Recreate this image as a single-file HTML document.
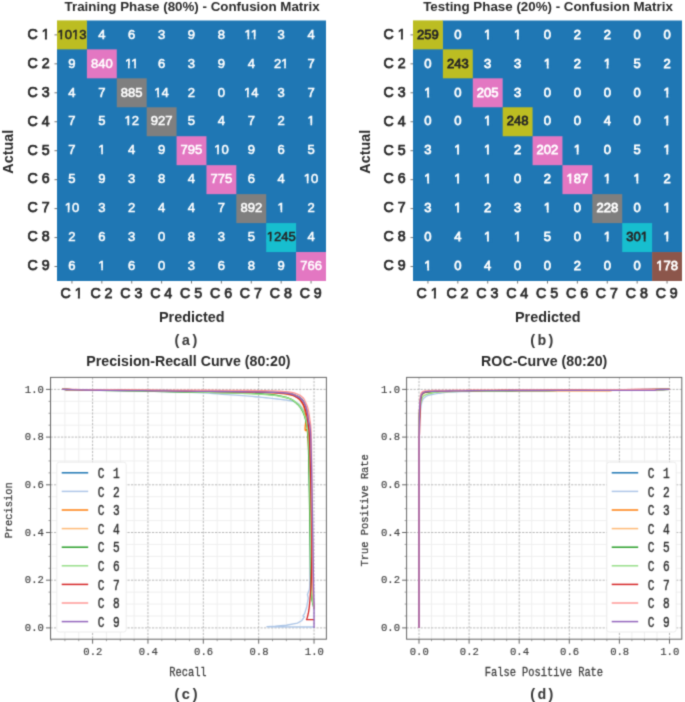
<!DOCTYPE html>
<html><head><meta charset="utf-8"><style>
html,body{margin:0;padding:0;background:#fff;}
svg{display:block;will-change:transform;}
text{font-family:"Liberation Sans", sans-serif;fill:#2b2b2b;}
.num1{font-size:13.6px;stroke-width:0.55px;}
.num2{font-size:13.6px;stroke-width:0.75px;}
.cl{font-size:14.2px;stroke:#2b2b2b;stroke-width:0.75px;}
.ttl{font-size:13.7px;font-weight:bold;}
.ttl2{font-size:14.2px;font-weight:bold;}
.lbl{font-size:14.4px;font-weight:bold;}
.sub{font-family:"Liberation Mono", monospace;font-size:14.7px;font-weight:bold;fill:#3a3a3a;}
.tick{font-family:"Liberation Mono", monospace;font-size:10.6px;fill:#424242;stroke:#424242;stroke-width:0.15px;}
.axl{font-family:"Liberation Mono", monospace;font-size:10.4px;fill:#404040;stroke:#404040;stroke-width:0.25px;}
.leg{font-family:"Liberation Mono", monospace;font-size:13px;letter-spacing:1.1px;fill:#333;stroke:#333;stroke-width:0.4px;}
</style></head>
<body><svg width="685" height="702" viewBox="0 0 685 702">
<defs><filter id="soft" x="0" y="0" width="685" height="702" filterUnits="userSpaceOnUse" color-interpolation-filters="sRGB"><feConvolveMatrix order="3" kernelMatrix="0.0256 0.1088 0.0256 0.1088 0.4624 0.1088 0.0256 0.1088 0.0256" edgeMode="duplicate" preserveAlpha="true"/></filter></defs>
<g filter="url(#soft)"><rect width="685" height="702" fill="#fff"/>
<path d="M86.39,20.40 L326.00,20.40 L326.00,252.54 L296.61,252.54 L296.61,281.00 L57.00,281.00 L57.00,48.86 L86.39,48.86 Z" fill="#1f77b4"/>
<rect x="57.00" y="20.40" width="29.89" height="28.96" fill="#bcbd22"/>
<rect x="86.89" y="49.36" width="29.89" height="28.96" fill="#e377c2"/>
<rect x="116.78" y="78.31" width="29.89" height="28.96" fill="#7f7f7f"/>
<rect x="146.67" y="107.27" width="29.89" height="28.96" fill="#7f7f7f"/>
<rect x="176.56" y="136.22" width="29.89" height="28.96" fill="#e377c2"/>
<rect x="206.44" y="165.18" width="29.89" height="28.96" fill="#e377c2"/>
<rect x="236.33" y="194.13" width="29.89" height="28.96" fill="#7f7f7f"/>
<rect x="266.22" y="223.09" width="29.89" height="28.96" fill="#17becf"/>
<rect x="296.11" y="252.04" width="29.89" height="28.96" fill="#e377c2"/>
<text transform="translate(71.94,38.63) scale(0.96,1.0)" class="num1" text-anchor="middle" style="fill:#262626;stroke:#262626">1013</text>
<rect x="57.15" y="36.34" width="3.29" height="3.57" fill="#bcbd22"/>
<rect x="62.13" y="36.34" width="2.74" height="3.57" fill="#bcbd22"/>
<rect x="71.73" y="36.34" width="3.21" height="3.57" fill="#bcbd22"/>
<rect x="76.63" y="36.34" width="2.74" height="3.57" fill="#bcbd22"/>
<text transform="translate(101.83,38.63) scale(0.96,1.0)" class="num1" text-anchor="middle" style="fill:#ffffff;stroke:#ffffff">4</text>
<text transform="translate(131.72,38.63) scale(0.96,1.0)" class="num1" text-anchor="middle" style="fill:#ffffff;stroke:#ffffff">6</text>
<text transform="translate(161.61,38.63) scale(0.96,1.0)" class="num1" text-anchor="middle" style="fill:#ffffff;stroke:#ffffff">3</text>
<text transform="translate(191.50,38.63) scale(0.96,1.0)" class="num1" text-anchor="middle" style="fill:#ffffff;stroke:#ffffff">9</text>
<text transform="translate(221.39,38.63) scale(0.96,1.0)" class="num1" text-anchor="middle" style="fill:#ffffff;stroke:#ffffff">8</text>
<text transform="translate(251.28,38.63) scale(0.96,1.0)" class="num1" text-anchor="middle" style="fill:#ffffff;stroke:#ffffff">11</text>
<rect x="244.23" y="36.34" width="3.29" height="3.57" fill="#1f77b4"/>
<rect x="249.20" y="36.34" width="2.26" height="3.57" fill="#1f77b4"/>
<rect x="251.44" y="36.34" width="2.37" height="3.57" fill="#1f77b4"/>
<rect x="255.48" y="36.34" width="3.19" height="3.57" fill="#1f77b4"/>
<text transform="translate(281.17,38.63) scale(0.96,1.0)" class="num1" text-anchor="middle" style="fill:#ffffff;stroke:#ffffff">3</text>
<text transform="translate(311.06,38.63) scale(0.96,1.0)" class="num1" text-anchor="middle" style="fill:#ffffff;stroke:#ffffff">4</text>
<text transform="translate(71.94,67.58) scale(0.96,1.0)" class="num1" text-anchor="middle" style="fill:#ffffff;stroke:#ffffff">9</text>
<text transform="translate(101.83,67.58) scale(0.96,1.0)" class="num1" text-anchor="middle" style="fill:#ffffff;stroke:#ffffff">840</text>
<text transform="translate(131.72,67.58) scale(0.96,1.0)" class="num1" text-anchor="middle" style="fill:#ffffff;stroke:#ffffff">11</text>
<rect x="124.67" y="65.29" width="3.29" height="3.57" fill="#1f77b4"/>
<rect x="129.64" y="65.29" width="2.26" height="3.57" fill="#1f77b4"/>
<rect x="131.88" y="65.29" width="2.37" height="3.57" fill="#1f77b4"/>
<rect x="135.93" y="65.29" width="3.19" height="3.57" fill="#1f77b4"/>
<text transform="translate(161.61,67.58) scale(0.96,1.0)" class="num1" text-anchor="middle" style="fill:#ffffff;stroke:#ffffff">6</text>
<text transform="translate(191.50,67.58) scale(0.96,1.0)" class="num1" text-anchor="middle" style="fill:#ffffff;stroke:#ffffff">3</text>
<text transform="translate(221.39,67.58) scale(0.96,1.0)" class="num1" text-anchor="middle" style="fill:#ffffff;stroke:#ffffff">9</text>
<text transform="translate(251.28,67.58) scale(0.96,1.0)" class="num1" text-anchor="middle" style="fill:#ffffff;stroke:#ffffff">4</text>
<text transform="translate(281.17,67.58) scale(0.96,1.0)" class="num1" text-anchor="middle" style="fill:#ffffff;stroke:#ffffff">21</text>
<rect x="280.88" y="65.29" width="3.29" height="3.57" fill="#1f77b4"/>
<rect x="285.85" y="65.29" width="3.19" height="3.57" fill="#1f77b4"/>
<text transform="translate(311.06,67.58) scale(0.96,1.0)" class="num1" text-anchor="middle" style="fill:#ffffff;stroke:#ffffff">7</text>
<text transform="translate(71.94,96.54) scale(0.96,1.0)" class="num1" text-anchor="middle" style="fill:#ffffff;stroke:#ffffff">4</text>
<text transform="translate(101.83,96.54) scale(0.96,1.0)" class="num1" text-anchor="middle" style="fill:#ffffff;stroke:#ffffff">7</text>
<text transform="translate(131.72,96.54) scale(0.96,1.0)" class="num1" text-anchor="middle" style="fill:#ffffff;stroke:#ffffff">885</text>
<text transform="translate(161.61,96.54) scale(0.96,1.0)" class="num1" text-anchor="middle" style="fill:#ffffff;stroke:#ffffff">14</text>
<rect x="154.08" y="94.25" width="3.29" height="3.57" fill="#1f77b4"/>
<rect x="159.05" y="94.25" width="2.53" height="3.57" fill="#1f77b4"/>
<text transform="translate(191.50,96.54) scale(0.96,1.0)" class="num1" text-anchor="middle" style="fill:#ffffff;stroke:#ffffff">2</text>
<text transform="translate(221.39,96.54) scale(0.96,1.0)" class="num1" text-anchor="middle" style="fill:#ffffff;stroke:#ffffff">0</text>
<text transform="translate(251.28,96.54) scale(0.96,1.0)" class="num1" text-anchor="middle" style="fill:#ffffff;stroke:#ffffff">14</text>
<rect x="243.75" y="94.25" width="3.29" height="3.57" fill="#1f77b4"/>
<rect x="248.72" y="94.25" width="2.53" height="3.57" fill="#1f77b4"/>
<text transform="translate(281.17,96.54) scale(0.96,1.0)" class="num1" text-anchor="middle" style="fill:#ffffff;stroke:#ffffff">3</text>
<text transform="translate(311.06,96.54) scale(0.96,1.0)" class="num1" text-anchor="middle" style="fill:#ffffff;stroke:#ffffff">7</text>
<text transform="translate(71.94,125.49) scale(0.96,1.0)" class="num1" text-anchor="middle" style="fill:#ffffff;stroke:#ffffff">7</text>
<text transform="translate(101.83,125.49) scale(0.96,1.0)" class="num1" text-anchor="middle" style="fill:#ffffff;stroke:#ffffff">5</text>
<text transform="translate(131.72,125.49) scale(0.96,1.0)" class="num1" text-anchor="middle" style="fill:#ffffff;stroke:#ffffff">12</text>
<rect x="124.19" y="123.20" width="3.29" height="3.57" fill="#1f77b4"/>
<rect x="129.16" y="123.20" width="2.89" height="3.57" fill="#1f77b4"/>
<text transform="translate(161.61,125.49) scale(0.96,1.0)" class="num1" text-anchor="middle" style="fill:#ffffff;stroke:#ffffff">927</text>
<text transform="translate(191.50,125.49) scale(0.96,1.0)" class="num1" text-anchor="middle" style="fill:#ffffff;stroke:#ffffff">5</text>
<text transform="translate(221.39,125.49) scale(0.96,1.0)" class="num1" text-anchor="middle" style="fill:#ffffff;stroke:#ffffff">4</text>
<text transform="translate(251.28,125.49) scale(0.96,1.0)" class="num1" text-anchor="middle" style="fill:#ffffff;stroke:#ffffff">7</text>
<text transform="translate(281.17,125.49) scale(0.96,1.0)" class="num1" text-anchor="middle" style="fill:#ffffff;stroke:#ffffff">2</text>
<text transform="translate(311.06,125.49) scale(0.96,1.0)" class="num1" text-anchor="middle" style="fill:#ffffff;stroke:#ffffff">1</text>
<rect x="307.16" y="123.20" width="3.29" height="3.57" fill="#1f77b4"/>
<rect x="312.13" y="123.20" width="3.19" height="3.57" fill="#1f77b4"/>
<text transform="translate(71.94,154.45) scale(0.96,1.0)" class="num1" text-anchor="middle" style="fill:#ffffff;stroke:#ffffff">7</text>
<text transform="translate(101.83,154.45) scale(0.96,1.0)" class="num1" text-anchor="middle" style="fill:#ffffff;stroke:#ffffff">1</text>
<rect x="97.93" y="152.16" width="3.29" height="3.57" fill="#1f77b4"/>
<rect x="102.90" y="152.16" width="3.19" height="3.57" fill="#1f77b4"/>
<text transform="translate(131.72,154.45) scale(0.96,1.0)" class="num1" text-anchor="middle" style="fill:#ffffff;stroke:#ffffff">4</text>
<text transform="translate(161.61,154.45) scale(0.96,1.0)" class="num1" text-anchor="middle" style="fill:#ffffff;stroke:#ffffff">9</text>
<text transform="translate(191.50,154.45) scale(0.96,1.0)" class="num1" text-anchor="middle" style="fill:#ffffff;stroke:#ffffff">795</text>
<text transform="translate(221.39,154.45) scale(0.96,1.0)" class="num1" text-anchor="middle" style="fill:#ffffff;stroke:#ffffff">10</text>
<rect x="213.86" y="152.16" width="3.29" height="3.57" fill="#1f77b4"/>
<rect x="218.83" y="152.16" width="2.74" height="3.57" fill="#1f77b4"/>
<text transform="translate(251.28,154.45) scale(0.96,1.0)" class="num1" text-anchor="middle" style="fill:#ffffff;stroke:#ffffff">9</text>
<text transform="translate(281.17,154.45) scale(0.96,1.0)" class="num1" text-anchor="middle" style="fill:#ffffff;stroke:#ffffff">6</text>
<text transform="translate(311.06,154.45) scale(0.96,1.0)" class="num1" text-anchor="middle" style="fill:#ffffff;stroke:#ffffff">5</text>
<text transform="translate(71.94,183.41) scale(0.96,1.0)" class="num1" text-anchor="middle" style="fill:#ffffff;stroke:#ffffff">5</text>
<text transform="translate(101.83,183.41) scale(0.96,1.0)" class="num1" text-anchor="middle" style="fill:#ffffff;stroke:#ffffff">9</text>
<text transform="translate(131.72,183.41) scale(0.96,1.0)" class="num1" text-anchor="middle" style="fill:#ffffff;stroke:#ffffff">3</text>
<text transform="translate(161.61,183.41) scale(0.96,1.0)" class="num1" text-anchor="middle" style="fill:#ffffff;stroke:#ffffff">8</text>
<text transform="translate(191.50,183.41) scale(0.96,1.0)" class="num1" text-anchor="middle" style="fill:#ffffff;stroke:#ffffff">4</text>
<text transform="translate(221.39,183.41) scale(0.96,1.0)" class="num1" text-anchor="middle" style="fill:#ffffff;stroke:#ffffff">775</text>
<text transform="translate(251.28,183.41) scale(0.96,1.0)" class="num1" text-anchor="middle" style="fill:#ffffff;stroke:#ffffff">6</text>
<text transform="translate(281.17,183.41) scale(0.96,1.0)" class="num1" text-anchor="middle" style="fill:#ffffff;stroke:#ffffff">4</text>
<text transform="translate(311.06,183.41) scale(0.96,1.0)" class="num1" text-anchor="middle" style="fill:#ffffff;stroke:#ffffff">10</text>
<rect x="303.53" y="181.11" width="3.29" height="3.57" fill="#1f77b4"/>
<rect x="308.50" y="181.11" width="2.74" height="3.57" fill="#1f77b4"/>
<text transform="translate(71.94,212.36) scale(0.96,1.0)" class="num1" text-anchor="middle" style="fill:#ffffff;stroke:#ffffff">10</text>
<rect x="64.41" y="210.07" width="3.29" height="3.57" fill="#1f77b4"/>
<rect x="69.39" y="210.07" width="2.74" height="3.57" fill="#1f77b4"/>
<text transform="translate(101.83,212.36) scale(0.96,1.0)" class="num1" text-anchor="middle" style="fill:#ffffff;stroke:#ffffff">3</text>
<text transform="translate(131.72,212.36) scale(0.96,1.0)" class="num1" text-anchor="middle" style="fill:#ffffff;stroke:#ffffff">2</text>
<text transform="translate(161.61,212.36) scale(0.96,1.0)" class="num1" text-anchor="middle" style="fill:#ffffff;stroke:#ffffff">4</text>
<text transform="translate(191.50,212.36) scale(0.96,1.0)" class="num1" text-anchor="middle" style="fill:#ffffff;stroke:#ffffff">4</text>
<text transform="translate(221.39,212.36) scale(0.96,1.0)" class="num1" text-anchor="middle" style="fill:#ffffff;stroke:#ffffff">7</text>
<text transform="translate(251.28,212.36) scale(0.96,1.0)" class="num1" text-anchor="middle" style="fill:#ffffff;stroke:#ffffff">892</text>
<text transform="translate(281.17,212.36) scale(0.96,1.0)" class="num1" text-anchor="middle" style="fill:#ffffff;stroke:#ffffff">1</text>
<rect x="277.27" y="210.07" width="3.29" height="3.57" fill="#1f77b4"/>
<rect x="282.24" y="210.07" width="3.19" height="3.57" fill="#1f77b4"/>
<text transform="translate(311.06,212.36) scale(0.96,1.0)" class="num1" text-anchor="middle" style="fill:#ffffff;stroke:#ffffff">2</text>
<text transform="translate(71.94,241.32) scale(0.96,1.0)" class="num1" text-anchor="middle" style="fill:#ffffff;stroke:#ffffff">2</text>
<text transform="translate(101.83,241.32) scale(0.96,1.0)" class="num1" text-anchor="middle" style="fill:#ffffff;stroke:#ffffff">6</text>
<text transform="translate(131.72,241.32) scale(0.96,1.0)" class="num1" text-anchor="middle" style="fill:#ffffff;stroke:#ffffff">3</text>
<text transform="translate(161.61,241.32) scale(0.96,1.0)" class="num1" text-anchor="middle" style="fill:#ffffff;stroke:#ffffff">0</text>
<text transform="translate(191.50,241.32) scale(0.96,1.0)" class="num1" text-anchor="middle" style="fill:#ffffff;stroke:#ffffff">8</text>
<text transform="translate(221.39,241.32) scale(0.96,1.0)" class="num1" text-anchor="middle" style="fill:#ffffff;stroke:#ffffff">3</text>
<text transform="translate(251.28,241.32) scale(0.96,1.0)" class="num1" text-anchor="middle" style="fill:#ffffff;stroke:#ffffff">5</text>
<text transform="translate(281.17,241.32) scale(0.96,1.0)" class="num1" text-anchor="middle" style="fill:#262626;stroke:#262626">1245</text>
<rect x="266.38" y="239.03" width="3.29" height="3.57" fill="#17becf"/>
<rect x="271.35" y="239.03" width="2.89" height="3.57" fill="#17becf"/>
<text transform="translate(311.06,241.32) scale(0.96,1.0)" class="num1" text-anchor="middle" style="fill:#ffffff;stroke:#ffffff">4</text>
<text transform="translate(71.94,270.27) scale(0.96,1.0)" class="num1" text-anchor="middle" style="fill:#ffffff;stroke:#ffffff">6</text>
<text transform="translate(101.83,270.27) scale(0.96,1.0)" class="num1" text-anchor="middle" style="fill:#ffffff;stroke:#ffffff">1</text>
<rect x="97.93" y="267.98" width="3.29" height="3.57" fill="#1f77b4"/>
<rect x="102.90" y="267.98" width="3.19" height="3.57" fill="#1f77b4"/>
<text transform="translate(131.72,270.27) scale(0.96,1.0)" class="num1" text-anchor="middle" style="fill:#ffffff;stroke:#ffffff">6</text>
<text transform="translate(161.61,270.27) scale(0.96,1.0)" class="num1" text-anchor="middle" style="fill:#ffffff;stroke:#ffffff">0</text>
<text transform="translate(191.50,270.27) scale(0.96,1.0)" class="num1" text-anchor="middle" style="fill:#ffffff;stroke:#ffffff">3</text>
<text transform="translate(221.39,270.27) scale(0.96,1.0)" class="num1" text-anchor="middle" style="fill:#ffffff;stroke:#ffffff">6</text>
<text transform="translate(251.28,270.27) scale(0.96,1.0)" class="num1" text-anchor="middle" style="fill:#ffffff;stroke:#ffffff">8</text>
<text transform="translate(281.17,270.27) scale(0.96,1.0)" class="num1" text-anchor="middle" style="fill:#ffffff;stroke:#ffffff">9</text>
<text transform="translate(311.06,270.27) scale(0.96,1.0)" class="num1" text-anchor="middle" style="fill:#ffffff;stroke:#ffffff">766</text>
<line x1="54.5" y1="34.88" x2="57" y2="34.88" stroke="#666" stroke-width="0.9"/>
<text transform="translate(49.60,38.68)" class="cl" text-anchor="end">C 1</text>
<rect x="41.42" y="36.24" width="3.49" height="3.81" fill="#fff"/>
<rect x="46.91" y="36.24" width="3.38" height="3.81" fill="#fff"/>
<line x1="71.94" y1="281.00" x2="71.94" y2="283.50" stroke="#666" stroke-width="0.9"/>
<text transform="translate(71.54,297.60)" class="cl" text-anchor="middle">C 1</text>
<rect x="74.40" y="295.16" width="3.49" height="3.81" fill="#fff"/>
<rect x="79.89" y="295.16" width="3.38" height="3.81" fill="#fff"/>
<line x1="54.5" y1="63.83" x2="57" y2="63.83" stroke="#666" stroke-width="0.9"/>
<text transform="translate(49.60,67.63)" class="cl" text-anchor="end">C 2</text>
<line x1="101.83" y1="281.00" x2="101.83" y2="283.50" stroke="#666" stroke-width="0.9"/>
<text transform="translate(101.43,297.60)" class="cl" text-anchor="middle">C 2</text>
<line x1="54.5" y1="92.79" x2="57" y2="92.79" stroke="#666" stroke-width="0.9"/>
<text transform="translate(49.60,96.59)" class="cl" text-anchor="end">C 3</text>
<line x1="131.72" y1="281.00" x2="131.72" y2="283.50" stroke="#666" stroke-width="0.9"/>
<text transform="translate(131.32,297.60)" class="cl" text-anchor="middle">C 3</text>
<line x1="54.5" y1="121.74" x2="57" y2="121.74" stroke="#666" stroke-width="0.9"/>
<text transform="translate(49.60,125.54)" class="cl" text-anchor="end">C 4</text>
<line x1="161.61" y1="281.00" x2="161.61" y2="283.50" stroke="#666" stroke-width="0.9"/>
<text transform="translate(161.21,297.60)" class="cl" text-anchor="middle">C 4</text>
<line x1="54.5" y1="150.70" x2="57" y2="150.70" stroke="#666" stroke-width="0.9"/>
<text transform="translate(49.60,154.50)" class="cl" text-anchor="end">C 5</text>
<line x1="191.50" y1="281.00" x2="191.50" y2="283.50" stroke="#666" stroke-width="0.9"/>
<text transform="translate(191.10,297.60)" class="cl" text-anchor="middle">C 5</text>
<line x1="54.5" y1="179.66" x2="57" y2="179.66" stroke="#666" stroke-width="0.9"/>
<text transform="translate(49.60,183.46)" class="cl" text-anchor="end">C 6</text>
<line x1="221.39" y1="281.00" x2="221.39" y2="283.50" stroke="#666" stroke-width="0.9"/>
<text transform="translate(220.99,297.60)" class="cl" text-anchor="middle">C 6</text>
<line x1="54.5" y1="208.61" x2="57" y2="208.61" stroke="#666" stroke-width="0.9"/>
<text transform="translate(49.60,212.41)" class="cl" text-anchor="end">C 7</text>
<line x1="251.28" y1="281.00" x2="251.28" y2="283.50" stroke="#666" stroke-width="0.9"/>
<text transform="translate(250.88,297.60)" class="cl" text-anchor="middle">C 7</text>
<line x1="54.5" y1="237.57" x2="57" y2="237.57" stroke="#666" stroke-width="0.9"/>
<text transform="translate(49.60,241.37)" class="cl" text-anchor="end">C 8</text>
<line x1="281.17" y1="281.00" x2="281.17" y2="283.50" stroke="#666" stroke-width="0.9"/>
<text transform="translate(280.77,297.60)" class="cl" text-anchor="middle">C 8</text>
<line x1="54.5" y1="266.52" x2="57" y2="266.52" stroke="#666" stroke-width="0.9"/>
<text transform="translate(49.60,270.32)" class="cl" text-anchor="end">C 9</text>
<line x1="311.06" y1="281.00" x2="311.06" y2="283.50" stroke="#666" stroke-width="0.9"/>
<text transform="translate(310.66,297.60)" class="cl" text-anchor="middle">C 9</text>
<text transform="translate(192.10,11.10) scale(0.975,1.0)" class="ttl" text-anchor="middle">Training Phase (80%) - Confusion Matrix</text>
<text transform="translate(191.80,321.70)" class="lbl" text-anchor="middle">Predicted</text>
<text transform="translate(13.10,151.70) rotate(-90)" class="lbl" text-anchor="middle">Actual</text>
<text transform="translate(185.90,345.20)" class="sub" text-anchor="middle">(a)</text>
<path d="M442.39,20.40 L682.00,20.40 L682.00,252.54 L652.61,252.54 L652.61,281.00 L413.00,281.00 L413.00,48.86 L442.39,48.86 Z" fill="#1f77b4"/>
<rect x="413.00" y="20.40" width="29.89" height="28.96" fill="#bcbd22"/>
<rect x="442.89" y="49.36" width="29.89" height="28.96" fill="#bcbd22"/>
<rect x="472.78" y="78.31" width="29.89" height="28.96" fill="#e377c2"/>
<rect x="502.67" y="107.27" width="29.89" height="28.96" fill="#bcbd22"/>
<rect x="532.56" y="136.22" width="29.89" height="28.96" fill="#e377c2"/>
<rect x="562.44" y="165.18" width="29.89" height="28.96" fill="#e377c2"/>
<rect x="592.33" y="194.13" width="29.89" height="28.96" fill="#7f7f7f"/>
<rect x="622.22" y="223.09" width="29.89" height="28.96" fill="#17becf"/>
<rect x="652.11" y="252.04" width="29.89" height="28.96" fill="#8c564b"/>
<text transform="translate(427.94,38.63) scale(0.96,1.0)" class="num2" text-anchor="middle" style="fill:#262626;stroke:#262626">259</text>
<text transform="translate(457.83,38.63) scale(0.96,1.0)" class="num2" text-anchor="middle" style="fill:#ffffff;stroke:#ffffff">0</text>
<text transform="translate(487.72,38.63) scale(0.96,1.0)" class="num2" text-anchor="middle" style="fill:#ffffff;stroke:#ffffff">1</text>
<rect x="483.73" y="36.24" width="3.29" height="3.77" fill="#1f77b4"/>
<rect x="488.89" y="36.24" width="3.19" height="3.77" fill="#1f77b4"/>
<text transform="translate(517.61,38.63) scale(0.96,1.0)" class="num2" text-anchor="middle" style="fill:#ffffff;stroke:#ffffff">1</text>
<rect x="513.62" y="36.24" width="3.29" height="3.77" fill="#1f77b4"/>
<rect x="518.78" y="36.24" width="3.19" height="3.77" fill="#1f77b4"/>
<text transform="translate(547.50,38.63) scale(0.96,1.0)" class="num2" text-anchor="middle" style="fill:#ffffff;stroke:#ffffff">0</text>
<text transform="translate(577.39,38.63) scale(0.96,1.0)" class="num2" text-anchor="middle" style="fill:#ffffff;stroke:#ffffff">2</text>
<text transform="translate(607.28,38.63) scale(0.96,1.0)" class="num2" text-anchor="middle" style="fill:#ffffff;stroke:#ffffff">2</text>
<text transform="translate(637.17,38.63) scale(0.96,1.0)" class="num2" text-anchor="middle" style="fill:#ffffff;stroke:#ffffff">0</text>
<text transform="translate(667.06,38.63) scale(0.96,1.0)" class="num2" text-anchor="middle" style="fill:#ffffff;stroke:#ffffff">0</text>
<text transform="translate(427.94,67.58) scale(0.96,1.0)" class="num2" text-anchor="middle" style="fill:#ffffff;stroke:#ffffff">0</text>
<text transform="translate(457.83,67.58) scale(0.96,1.0)" class="num2" text-anchor="middle" style="fill:#262626;stroke:#262626">243</text>
<text transform="translate(487.72,67.58) scale(0.96,1.0)" class="num2" text-anchor="middle" style="fill:#ffffff;stroke:#ffffff">3</text>
<text transform="translate(517.61,67.58) scale(0.96,1.0)" class="num2" text-anchor="middle" style="fill:#ffffff;stroke:#ffffff">3</text>
<text transform="translate(547.50,67.58) scale(0.96,1.0)" class="num2" text-anchor="middle" style="fill:#ffffff;stroke:#ffffff">1</text>
<rect x="543.50" y="65.19" width="3.29" height="3.77" fill="#1f77b4"/>
<rect x="548.67" y="65.19" width="3.19" height="3.77" fill="#1f77b4"/>
<text transform="translate(577.39,67.58) scale(0.96,1.0)" class="num2" text-anchor="middle" style="fill:#ffffff;stroke:#ffffff">2</text>
<text transform="translate(607.28,67.58) scale(0.96,1.0)" class="num2" text-anchor="middle" style="fill:#ffffff;stroke:#ffffff">1</text>
<rect x="603.28" y="65.19" width="3.29" height="3.77" fill="#1f77b4"/>
<rect x="608.44" y="65.19" width="3.19" height="3.77" fill="#1f77b4"/>
<text transform="translate(637.17,67.58) scale(0.96,1.0)" class="num2" text-anchor="middle" style="fill:#ffffff;stroke:#ffffff">5</text>
<text transform="translate(667.06,67.58) scale(0.96,1.0)" class="num2" text-anchor="middle" style="fill:#ffffff;stroke:#ffffff">2</text>
<text transform="translate(427.94,96.54) scale(0.96,1.0)" class="num2" text-anchor="middle" style="fill:#ffffff;stroke:#ffffff">1</text>
<rect x="423.95" y="94.15" width="3.29" height="3.77" fill="#1f77b4"/>
<rect x="429.11" y="94.15" width="3.19" height="3.77" fill="#1f77b4"/>
<text transform="translate(457.83,96.54) scale(0.96,1.0)" class="num2" text-anchor="middle" style="fill:#ffffff;stroke:#ffffff">0</text>
<text transform="translate(487.72,96.54) scale(0.96,1.0)" class="num2" text-anchor="middle" style="fill:#ffffff;stroke:#ffffff">205</text>
<text transform="translate(517.61,96.54) scale(0.96,1.0)" class="num2" text-anchor="middle" style="fill:#ffffff;stroke:#ffffff">3</text>
<text transform="translate(547.50,96.54) scale(0.96,1.0)" class="num2" text-anchor="middle" style="fill:#ffffff;stroke:#ffffff">0</text>
<text transform="translate(577.39,96.54) scale(0.96,1.0)" class="num2" text-anchor="middle" style="fill:#ffffff;stroke:#ffffff">0</text>
<text transform="translate(607.28,96.54) scale(0.96,1.0)" class="num2" text-anchor="middle" style="fill:#ffffff;stroke:#ffffff">0</text>
<text transform="translate(637.17,96.54) scale(0.96,1.0)" class="num2" text-anchor="middle" style="fill:#ffffff;stroke:#ffffff">0</text>
<text transform="translate(667.06,96.54) scale(0.96,1.0)" class="num2" text-anchor="middle" style="fill:#ffffff;stroke:#ffffff">1</text>
<rect x="663.06" y="94.15" width="3.29" height="3.77" fill="#1f77b4"/>
<rect x="668.22" y="94.15" width="3.19" height="3.77" fill="#1f77b4"/>
<text transform="translate(427.94,125.49) scale(0.96,1.0)" class="num2" text-anchor="middle" style="fill:#ffffff;stroke:#ffffff">0</text>
<text transform="translate(457.83,125.49) scale(0.96,1.0)" class="num2" text-anchor="middle" style="fill:#ffffff;stroke:#ffffff">0</text>
<text transform="translate(487.72,125.49) scale(0.96,1.0)" class="num2" text-anchor="middle" style="fill:#ffffff;stroke:#ffffff">1</text>
<rect x="483.73" y="123.10" width="3.29" height="3.77" fill="#1f77b4"/>
<rect x="488.89" y="123.10" width="3.19" height="3.77" fill="#1f77b4"/>
<text transform="translate(517.61,125.49) scale(0.96,1.0)" class="num2" text-anchor="middle" style="fill:#262626;stroke:#262626">248</text>
<text transform="translate(547.50,125.49) scale(0.96,1.0)" class="num2" text-anchor="middle" style="fill:#ffffff;stroke:#ffffff">0</text>
<text transform="translate(577.39,125.49) scale(0.96,1.0)" class="num2" text-anchor="middle" style="fill:#ffffff;stroke:#ffffff">0</text>
<text transform="translate(607.28,125.49) scale(0.96,1.0)" class="num2" text-anchor="middle" style="fill:#ffffff;stroke:#ffffff">4</text>
<text transform="translate(637.17,125.49) scale(0.96,1.0)" class="num2" text-anchor="middle" style="fill:#ffffff;stroke:#ffffff">0</text>
<text transform="translate(667.06,125.49) scale(0.96,1.0)" class="num2" text-anchor="middle" style="fill:#ffffff;stroke:#ffffff">1</text>
<rect x="663.06" y="123.10" width="3.29" height="3.77" fill="#1f77b4"/>
<rect x="668.22" y="123.10" width="3.19" height="3.77" fill="#1f77b4"/>
<text transform="translate(427.94,154.45) scale(0.96,1.0)" class="num2" text-anchor="middle" style="fill:#ffffff;stroke:#ffffff">3</text>
<text transform="translate(457.83,154.45) scale(0.96,1.0)" class="num2" text-anchor="middle" style="fill:#ffffff;stroke:#ffffff">1</text>
<rect x="453.84" y="152.06" width="3.29" height="3.77" fill="#1f77b4"/>
<rect x="459.00" y="152.06" width="3.19" height="3.77" fill="#1f77b4"/>
<text transform="translate(487.72,154.45) scale(0.96,1.0)" class="num2" text-anchor="middle" style="fill:#ffffff;stroke:#ffffff">1</text>
<rect x="483.73" y="152.06" width="3.29" height="3.77" fill="#1f77b4"/>
<rect x="488.89" y="152.06" width="3.19" height="3.77" fill="#1f77b4"/>
<text transform="translate(517.61,154.45) scale(0.96,1.0)" class="num2" text-anchor="middle" style="fill:#ffffff;stroke:#ffffff">2</text>
<text transform="translate(547.50,154.45) scale(0.96,1.0)" class="num2" text-anchor="middle" style="fill:#ffffff;stroke:#ffffff">202</text>
<text transform="translate(577.39,154.45) scale(0.96,1.0)" class="num2" text-anchor="middle" style="fill:#ffffff;stroke:#ffffff">1</text>
<rect x="573.39" y="152.06" width="3.29" height="3.77" fill="#1f77b4"/>
<rect x="578.56" y="152.06" width="3.19" height="3.77" fill="#1f77b4"/>
<text transform="translate(607.28,154.45) scale(0.96,1.0)" class="num2" text-anchor="middle" style="fill:#ffffff;stroke:#ffffff">0</text>
<text transform="translate(637.17,154.45) scale(0.96,1.0)" class="num2" text-anchor="middle" style="fill:#ffffff;stroke:#ffffff">5</text>
<text transform="translate(667.06,154.45) scale(0.96,1.0)" class="num2" text-anchor="middle" style="fill:#ffffff;stroke:#ffffff">1</text>
<rect x="663.06" y="152.06" width="3.29" height="3.77" fill="#1f77b4"/>
<rect x="668.22" y="152.06" width="3.19" height="3.77" fill="#1f77b4"/>
<text transform="translate(427.94,183.41) scale(0.96,1.0)" class="num2" text-anchor="middle" style="fill:#ffffff;stroke:#ffffff">1</text>
<rect x="423.95" y="181.01" width="3.29" height="3.77" fill="#1f77b4"/>
<rect x="429.11" y="181.01" width="3.19" height="3.77" fill="#1f77b4"/>
<text transform="translate(457.83,183.41) scale(0.96,1.0)" class="num2" text-anchor="middle" style="fill:#ffffff;stroke:#ffffff">1</text>
<rect x="453.84" y="181.01" width="3.29" height="3.77" fill="#1f77b4"/>
<rect x="459.00" y="181.01" width="3.19" height="3.77" fill="#1f77b4"/>
<text transform="translate(487.72,183.41) scale(0.96,1.0)" class="num2" text-anchor="middle" style="fill:#ffffff;stroke:#ffffff">1</text>
<rect x="483.73" y="181.01" width="3.29" height="3.77" fill="#1f77b4"/>
<rect x="488.89" y="181.01" width="3.19" height="3.77" fill="#1f77b4"/>
<text transform="translate(517.61,183.41) scale(0.96,1.0)" class="num2" text-anchor="middle" style="fill:#ffffff;stroke:#ffffff">0</text>
<text transform="translate(547.50,183.41) scale(0.96,1.0)" class="num2" text-anchor="middle" style="fill:#ffffff;stroke:#ffffff">2</text>
<text transform="translate(577.39,183.41) scale(0.96,1.0)" class="num2" text-anchor="middle" style="fill:#ffffff;stroke:#ffffff">187</text>
<rect x="566.13" y="181.01" width="3.29" height="3.77" fill="#e377c2"/>
<rect x="571.30" y="181.01" width="2.61" height="3.77" fill="#e377c2"/>
<text transform="translate(607.28,183.41) scale(0.96,1.0)" class="num2" text-anchor="middle" style="fill:#ffffff;stroke:#ffffff">1</text>
<rect x="603.28" y="181.01" width="3.29" height="3.77" fill="#1f77b4"/>
<rect x="608.44" y="181.01" width="3.19" height="3.77" fill="#1f77b4"/>
<text transform="translate(637.17,183.41) scale(0.96,1.0)" class="num2" text-anchor="middle" style="fill:#ffffff;stroke:#ffffff">1</text>
<rect x="633.17" y="181.01" width="3.29" height="3.77" fill="#1f77b4"/>
<rect x="638.33" y="181.01" width="3.19" height="3.77" fill="#1f77b4"/>
<text transform="translate(667.06,183.41) scale(0.96,1.0)" class="num2" text-anchor="middle" style="fill:#ffffff;stroke:#ffffff">2</text>
<text transform="translate(427.94,212.36) scale(0.96,1.0)" class="num2" text-anchor="middle" style="fill:#ffffff;stroke:#ffffff">3</text>
<text transform="translate(457.83,212.36) scale(0.96,1.0)" class="num2" text-anchor="middle" style="fill:#ffffff;stroke:#ffffff">1</text>
<rect x="453.84" y="209.97" width="3.29" height="3.77" fill="#1f77b4"/>
<rect x="459.00" y="209.97" width="3.19" height="3.77" fill="#1f77b4"/>
<text transform="translate(487.72,212.36) scale(0.96,1.0)" class="num2" text-anchor="middle" style="fill:#ffffff;stroke:#ffffff">2</text>
<text transform="translate(517.61,212.36) scale(0.96,1.0)" class="num2" text-anchor="middle" style="fill:#ffffff;stroke:#ffffff">3</text>
<text transform="translate(547.50,212.36) scale(0.96,1.0)" class="num2" text-anchor="middle" style="fill:#ffffff;stroke:#ffffff">1</text>
<rect x="543.50" y="209.97" width="3.29" height="3.77" fill="#1f77b4"/>
<rect x="548.67" y="209.97" width="3.19" height="3.77" fill="#1f77b4"/>
<text transform="translate(577.39,212.36) scale(0.96,1.0)" class="num2" text-anchor="middle" style="fill:#ffffff;stroke:#ffffff">0</text>
<text transform="translate(607.28,212.36) scale(0.96,1.0)" class="num2" text-anchor="middle" style="fill:#ffffff;stroke:#ffffff">228</text>
<text transform="translate(637.17,212.36) scale(0.96,1.0)" class="num2" text-anchor="middle" style="fill:#ffffff;stroke:#ffffff">0</text>
<text transform="translate(667.06,212.36) scale(0.96,1.0)" class="num2" text-anchor="middle" style="fill:#ffffff;stroke:#ffffff">1</text>
<rect x="663.06" y="209.97" width="3.29" height="3.77" fill="#1f77b4"/>
<rect x="668.22" y="209.97" width="3.19" height="3.77" fill="#1f77b4"/>
<text transform="translate(427.94,241.32) scale(0.96,1.0)" class="num2" text-anchor="middle" style="fill:#ffffff;stroke:#ffffff">0</text>
<text transform="translate(457.83,241.32) scale(0.96,1.0)" class="num2" text-anchor="middle" style="fill:#ffffff;stroke:#ffffff">4</text>
<text transform="translate(487.72,241.32) scale(0.96,1.0)" class="num2" text-anchor="middle" style="fill:#ffffff;stroke:#ffffff">1</text>
<rect x="483.73" y="238.93" width="3.29" height="3.77" fill="#1f77b4"/>
<rect x="488.89" y="238.93" width="3.19" height="3.77" fill="#1f77b4"/>
<text transform="translate(517.61,241.32) scale(0.96,1.0)" class="num2" text-anchor="middle" style="fill:#ffffff;stroke:#ffffff">1</text>
<rect x="513.62" y="238.93" width="3.29" height="3.77" fill="#1f77b4"/>
<rect x="518.78" y="238.93" width="3.19" height="3.77" fill="#1f77b4"/>
<text transform="translate(547.50,241.32) scale(0.96,1.0)" class="num2" text-anchor="middle" style="fill:#ffffff;stroke:#ffffff">5</text>
<text transform="translate(577.39,241.32) scale(0.96,1.0)" class="num2" text-anchor="middle" style="fill:#ffffff;stroke:#ffffff">0</text>
<text transform="translate(607.28,241.32) scale(0.96,1.0)" class="num2" text-anchor="middle" style="fill:#ffffff;stroke:#ffffff">1</text>
<rect x="603.28" y="238.93" width="3.29" height="3.77" fill="#1f77b4"/>
<rect x="608.44" y="238.93" width="3.19" height="3.77" fill="#1f77b4"/>
<text transform="translate(637.17,241.32) scale(0.96,1.0)" class="num2" text-anchor="middle" style="fill:#262626;stroke:#262626">301</text>
<rect x="640.68" y="238.93" width="3.02" height="3.77" fill="#17becf"/>
<rect x="645.58" y="238.93" width="3.19" height="3.77" fill="#17becf"/>
<text transform="translate(667.06,241.32) scale(0.96,1.0)" class="num2" text-anchor="middle" style="fill:#ffffff;stroke:#ffffff">1</text>
<rect x="663.06" y="238.93" width="3.29" height="3.77" fill="#1f77b4"/>
<rect x="668.22" y="238.93" width="3.19" height="3.77" fill="#1f77b4"/>
<text transform="translate(427.94,270.27) scale(0.96,1.0)" class="num2" text-anchor="middle" style="fill:#ffffff;stroke:#ffffff">1</text>
<rect x="423.95" y="267.88" width="3.29" height="3.77" fill="#1f77b4"/>
<rect x="429.11" y="267.88" width="3.19" height="3.77" fill="#1f77b4"/>
<text transform="translate(457.83,270.27) scale(0.96,1.0)" class="num2" text-anchor="middle" style="fill:#ffffff;stroke:#ffffff">0</text>
<text transform="translate(487.72,270.27) scale(0.96,1.0)" class="num2" text-anchor="middle" style="fill:#ffffff;stroke:#ffffff">4</text>
<text transform="translate(517.61,270.27) scale(0.96,1.0)" class="num2" text-anchor="middle" style="fill:#ffffff;stroke:#ffffff">0</text>
<text transform="translate(547.50,270.27) scale(0.96,1.0)" class="num2" text-anchor="middle" style="fill:#ffffff;stroke:#ffffff">0</text>
<text transform="translate(577.39,270.27) scale(0.96,1.0)" class="num2" text-anchor="middle" style="fill:#ffffff;stroke:#ffffff">2</text>
<text transform="translate(607.28,270.27) scale(0.96,1.0)" class="num2" text-anchor="middle" style="fill:#ffffff;stroke:#ffffff">0</text>
<text transform="translate(637.17,270.27) scale(0.96,1.0)" class="num2" text-anchor="middle" style="fill:#ffffff;stroke:#ffffff">0</text>
<text transform="translate(667.06,270.27) scale(0.96,1.0)" class="num2" text-anchor="middle" style="fill:#ffffff;stroke:#ffffff">178</text>
<rect x="655.80" y="267.88" width="3.29" height="3.77" fill="#8c564b"/>
<rect x="660.96" y="267.88" width="2.71" height="3.77" fill="#8c564b"/>
<line x1="410.5" y1="34.88" x2="413" y2="34.88" stroke="#666" stroke-width="0.9"/>
<text transform="translate(405.60,38.68)" class="cl" text-anchor="end">C 1</text>
<rect x="397.42" y="36.24" width="3.49" height="3.81" fill="#fff"/>
<rect x="402.91" y="36.24" width="3.38" height="3.81" fill="#fff"/>
<line x1="427.94" y1="281.00" x2="427.94" y2="283.50" stroke="#666" stroke-width="0.9"/>
<text transform="translate(427.54,297.60)" class="cl" text-anchor="middle">C 1</text>
<rect x="430.40" y="295.16" width="3.49" height="3.81" fill="#fff"/>
<rect x="435.89" y="295.16" width="3.38" height="3.81" fill="#fff"/>
<line x1="410.5" y1="63.83" x2="413" y2="63.83" stroke="#666" stroke-width="0.9"/>
<text transform="translate(405.60,67.63)" class="cl" text-anchor="end">C 2</text>
<line x1="457.83" y1="281.00" x2="457.83" y2="283.50" stroke="#666" stroke-width="0.9"/>
<text transform="translate(457.43,297.60)" class="cl" text-anchor="middle">C 2</text>
<line x1="410.5" y1="92.79" x2="413" y2="92.79" stroke="#666" stroke-width="0.9"/>
<text transform="translate(405.60,96.59)" class="cl" text-anchor="end">C 3</text>
<line x1="487.72" y1="281.00" x2="487.72" y2="283.50" stroke="#666" stroke-width="0.9"/>
<text transform="translate(487.32,297.60)" class="cl" text-anchor="middle">C 3</text>
<line x1="410.5" y1="121.74" x2="413" y2="121.74" stroke="#666" stroke-width="0.9"/>
<text transform="translate(405.60,125.54)" class="cl" text-anchor="end">C 4</text>
<line x1="517.61" y1="281.00" x2="517.61" y2="283.50" stroke="#666" stroke-width="0.9"/>
<text transform="translate(517.21,297.60)" class="cl" text-anchor="middle">C 4</text>
<line x1="410.5" y1="150.70" x2="413" y2="150.70" stroke="#666" stroke-width="0.9"/>
<text transform="translate(405.60,154.50)" class="cl" text-anchor="end">C 5</text>
<line x1="547.50" y1="281.00" x2="547.50" y2="283.50" stroke="#666" stroke-width="0.9"/>
<text transform="translate(547.10,297.60)" class="cl" text-anchor="middle">C 5</text>
<line x1="410.5" y1="179.66" x2="413" y2="179.66" stroke="#666" stroke-width="0.9"/>
<text transform="translate(405.60,183.46)" class="cl" text-anchor="end">C 6</text>
<line x1="577.39" y1="281.00" x2="577.39" y2="283.50" stroke="#666" stroke-width="0.9"/>
<text transform="translate(576.99,297.60)" class="cl" text-anchor="middle">C 6</text>
<line x1="410.5" y1="208.61" x2="413" y2="208.61" stroke="#666" stroke-width="0.9"/>
<text transform="translate(405.60,212.41)" class="cl" text-anchor="end">C 7</text>
<line x1="607.28" y1="281.00" x2="607.28" y2="283.50" stroke="#666" stroke-width="0.9"/>
<text transform="translate(606.88,297.60)" class="cl" text-anchor="middle">C 7</text>
<line x1="410.5" y1="237.57" x2="413" y2="237.57" stroke="#666" stroke-width="0.9"/>
<text transform="translate(405.60,241.37)" class="cl" text-anchor="end">C 8</text>
<line x1="637.17" y1="281.00" x2="637.17" y2="283.50" stroke="#666" stroke-width="0.9"/>
<text transform="translate(636.77,297.60)" class="cl" text-anchor="middle">C 8</text>
<line x1="410.5" y1="266.52" x2="413" y2="266.52" stroke="#666" stroke-width="0.9"/>
<text transform="translate(405.60,270.32)" class="cl" text-anchor="end">C 9</text>
<line x1="667.06" y1="281.00" x2="667.06" y2="283.50" stroke="#666" stroke-width="0.9"/>
<text transform="translate(666.66,297.60)" class="cl" text-anchor="middle">C 9</text>
<text transform="translate(548.00,11.10) scale(0.975,1.0)" class="ttl" text-anchor="middle">Testing Phase (20%) - Confusion Matrix</text>
<text transform="translate(547.80,321.70)" class="lbl" text-anchor="middle">Predicted</text>
<text transform="translate(369.60,151.70) rotate(-90)" class="lbl" text-anchor="middle">Actual</text>
<text transform="translate(541.80,345.20)" class="sub" text-anchor="middle">(b)</text>
<line x1="51.08" y1="377.4" x2="51.08" y2="639.2" stroke="#efefef" stroke-width="1"/>
<line x1="64.92" y1="377.4" x2="64.92" y2="639.2" stroke="#efefef" stroke-width="1"/>
<line x1="78.76" y1="377.4" x2="78.76" y2="639.2" stroke="#efefef" stroke-width="1"/>
<line x1="106.44" y1="377.4" x2="106.44" y2="639.2" stroke="#efefef" stroke-width="1"/>
<line x1="120.28" y1="377.4" x2="120.28" y2="639.2" stroke="#efefef" stroke-width="1"/>
<line x1="134.12" y1="377.4" x2="134.12" y2="639.2" stroke="#efefef" stroke-width="1"/>
<line x1="161.80" y1="377.4" x2="161.80" y2="639.2" stroke="#efefef" stroke-width="1"/>
<line x1="175.64" y1="377.4" x2="175.64" y2="639.2" stroke="#efefef" stroke-width="1"/>
<line x1="189.48" y1="377.4" x2="189.48" y2="639.2" stroke="#efefef" stroke-width="1"/>
<line x1="217.16" y1="377.4" x2="217.16" y2="639.2" stroke="#efefef" stroke-width="1"/>
<line x1="231.00" y1="377.4" x2="231.00" y2="639.2" stroke="#efefef" stroke-width="1"/>
<line x1="244.84" y1="377.4" x2="244.84" y2="639.2" stroke="#efefef" stroke-width="1"/>
<line x1="272.52" y1="377.4" x2="272.52" y2="639.2" stroke="#efefef" stroke-width="1"/>
<line x1="286.36" y1="377.4" x2="286.36" y2="639.2" stroke="#efefef" stroke-width="1"/>
<line x1="300.20" y1="377.4" x2="300.20" y2="639.2" stroke="#efefef" stroke-width="1"/>
<line x1="50.5" y1="615.98" x2="326.4" y2="615.98" stroke="#efefef" stroke-width="1"/>
<line x1="50.5" y1="604.05" x2="326.4" y2="604.05" stroke="#efefef" stroke-width="1"/>
<line x1="50.5" y1="592.12" x2="326.4" y2="592.12" stroke="#efefef" stroke-width="1"/>
<line x1="50.5" y1="568.27" x2="326.4" y2="568.27" stroke="#efefef" stroke-width="1"/>
<line x1="50.5" y1="556.35" x2="326.4" y2="556.35" stroke="#efefef" stroke-width="1"/>
<line x1="50.5" y1="544.42" x2="326.4" y2="544.42" stroke="#efefef" stroke-width="1"/>
<line x1="50.5" y1="520.57" x2="326.4" y2="520.57" stroke="#efefef" stroke-width="1"/>
<line x1="50.5" y1="508.65" x2="326.4" y2="508.65" stroke="#efefef" stroke-width="1"/>
<line x1="50.5" y1="496.72" x2="326.4" y2="496.72" stroke="#efefef" stroke-width="1"/>
<line x1="50.5" y1="472.88" x2="326.4" y2="472.88" stroke="#efefef" stroke-width="1"/>
<line x1="50.5" y1="460.95" x2="326.4" y2="460.95" stroke="#efefef" stroke-width="1"/>
<line x1="50.5" y1="449.02" x2="326.4" y2="449.02" stroke="#efefef" stroke-width="1"/>
<line x1="50.5" y1="425.17" x2="326.4" y2="425.17" stroke="#efefef" stroke-width="1"/>
<line x1="50.5" y1="413.25" x2="326.4" y2="413.25" stroke="#efefef" stroke-width="1"/>
<line x1="50.5" y1="401.32" x2="326.4" y2="401.32" stroke="#efefef" stroke-width="1"/>
<line x1="92.60" y1="377.4" x2="92.60" y2="639.2" stroke="#b0b0b0" stroke-width="0.9" stroke-dasharray="2.2 1.3"/>
<line x1="147.96" y1="377.4" x2="147.96" y2="639.2" stroke="#b0b0b0" stroke-width="0.9" stroke-dasharray="2.2 1.3"/>
<line x1="203.32" y1="377.4" x2="203.32" y2="639.2" stroke="#b0b0b0" stroke-width="0.9" stroke-dasharray="2.2 1.3"/>
<line x1="258.68" y1="377.4" x2="258.68" y2="639.2" stroke="#b0b0b0" stroke-width="0.9" stroke-dasharray="2.2 1.3"/>
<line x1="314.04" y1="377.4" x2="314.04" y2="639.2" stroke="#b0b0b0" stroke-width="0.9" stroke-dasharray="2.2 1.3"/>
<line x1="50.5" y1="627.90" x2="326.4" y2="627.90" stroke="#b0b0b0" stroke-width="0.9" stroke-dasharray="2.2 1.3"/>
<line x1="50.5" y1="580.20" x2="326.4" y2="580.20" stroke="#b0b0b0" stroke-width="0.9" stroke-dasharray="2.2 1.3"/>
<line x1="50.5" y1="532.50" x2="326.4" y2="532.50" stroke="#b0b0b0" stroke-width="0.9" stroke-dasharray="2.2 1.3"/>
<line x1="50.5" y1="484.80" x2="326.4" y2="484.80" stroke="#b0b0b0" stroke-width="0.9" stroke-dasharray="2.2 1.3"/>
<line x1="50.5" y1="437.10" x2="326.4" y2="437.10" stroke="#b0b0b0" stroke-width="0.9" stroke-dasharray="2.2 1.3"/>
<line x1="50.5" y1="389.40" x2="326.4" y2="389.40" stroke="#b0b0b0" stroke-width="0.9" stroke-dasharray="2.2 1.3"/>
<clipPath id="clipc"><rect x="50.5" y="377.4" width="275.9" height="261.80000000000007"/></clipPath>
<g clip-path="url(#clipc)">
<path d="M62.15,389.40 L64.14,389.44 L66.39,389.48 L69.03,389.53 L72.19,389.59 L75.99,389.66 L80.58,389.73 L86.07,389.80 L92.60,389.88 L100.46,389.95 L109.66,390.03 L119.89,390.11 L130.83,390.19 L142.19,390.28 L153.65,390.37 L164.90,390.48 L175.64,390.59 L186.40,390.72 L197.70,390.86 L209.21,391.00 L220.62,391.16 L231.59,391.32 L241.81,391.48 L250.95,391.63 L258.68,391.78 L264.91,391.93 L269.91,392.06 L273.91,392.18 L277.10,392.31 L279.73,392.44 L282.00,392.60 L284.14,392.77 L286.36,392.98 L288.46,393.21 L290.13,393.45 L291.47,393.71 L292.55,393.99 L293.47,394.29 L294.30,394.62 L295.13,394.98 L296.05,395.36 L297.00,395.77 L297.88,396.20 L298.70,396.65 L299.47,397.12 L300.19,397.63 L300.87,398.18 L301.52,398.77 L302.14,399.42 L302.72,400.11 L303.24,400.83 L303.73,401.60 L304.18,402.41 L304.60,403.27 L304.99,404.16 L305.37,405.11 L305.74,406.09 L306.08,407.12 L306.41,408.17 L306.70,409.25 L306.98,410.39 L307.24,411.58 L307.49,412.85 L307.72,414.19 L307.95,415.63 L308.17,417.16 L308.37,418.77 L308.55,420.44 L308.73,422.19 L308.89,424.02 L309.05,425.92 L309.19,427.90 L309.33,429.94 L309.46,431.82 L309.57,433.43 L309.67,434.97 L309.77,436.65 L309.86,438.69 L309.95,441.29 L310.05,444.67 L310.16,449.02 L310.29,454.46 L310.42,460.80 L310.56,467.89 L310.70,475.56 L310.84,483.64 L310.99,491.95 L311.13,500.35 L311.27,508.65 L311.41,517.38 L311.56,526.93 L311.71,536.91 L311.86,546.96 L312.00,556.69 L312.14,565.72 L312.27,573.69 L312.38,580.20 L312.48,585.23 L312.57,589.11 L312.65,592.04 L312.73,594.21 L312.79,595.83 L312.85,597.08 L312.89,598.17 L312.93,599.28 L314.04,608.82" fill="none" stroke="#1f77b4" stroke-width="1.35" stroke-linejoin="round"/>
<path d="M62.15,389.40 L66.56,389.49 L72.34,389.60 L79.21,389.74 L86.89,389.89 L95.12,390.06 L103.61,390.23 L112.09,390.41 L120.28,390.59 L128.59,390.77 L137.45,390.95 L146.64,391.14 L155.92,391.34 L165.07,391.55 L173.87,391.77 L182.08,392.00 L189.48,392.26 L196.09,392.55 L202.13,392.86 L207.69,393.20 L212.84,393.54 L217.66,393.89 L222.24,394.24 L226.66,394.57 L231.00,394.89 L235.12,395.17 L238.89,395.43 L242.39,395.68 L245.70,395.93 L248.91,396.18 L252.08,396.44 L255.31,396.72 L258.68,397.03 L262.26,397.38 L266.00,397.75 L269.81,398.15 L273.59,398.55 L277.24,398.96 L280.65,399.37 L283.72,399.76 L286.36,400.13 L288.54,400.47 L290.33,400.78 L291.82,401.07 L293.06,401.35 L294.11,401.65 L295.06,401.98 L295.96,402.34 L296.88,402.76 L297.76,403.22 L298.50,403.72 L299.14,404.25 L299.70,404.81 L300.20,405.40 L300.66,406.01 L301.12,406.64 L301.58,407.29 L302.05,407.94 L302.48,408.59 L302.88,409.26 L303.26,409.96 L303.62,410.69 L303.96,411.47 L304.30,412.32 L304.63,413.25 L304.95,414.24 L305.25,415.27 L305.54,416.36 L305.82,417.50 L306.09,418.71 L306.35,419.99 L306.60,421.34 L306.84,422.79 L307.08,423.96 L307.30,424.69 L307.52,425.29 L307.73,426.07 L307.93,427.33 L308.12,429.39 L308.31,432.54 L308.50,437.10 L308.70,443.47 L308.90,451.52 L309.09,460.79 L309.28,470.79 L309.46,481.05 L309.63,491.10 L309.77,500.46 L309.89,508.65 L309.98,515.87 L310.05,522.64 L310.11,529.02 L310.15,535.03 L310.17,540.73 L310.18,546.16 L310.18,551.35 L310.16,556.35 L310.13,561.24 L310.07,566.00 L309.99,570.56 L309.91,574.83 L309.81,578.73 L309.73,582.18 L309.66,585.08 L309.61,587.36 L309.33,589.74 L307.40,594.51 L308.23,598.09 L306.84,606.43 L304.63,613.59 L302.97,615.98 L304.35,616.93 L301.58,620.75 L297.43,623.13 L286.36,625.28 L275.29,626.23 L266.98,626.71 L314.04,626.95" fill="none" stroke="#aec7e8" stroke-width="1.35" stroke-linejoin="round"/>
<path d="M62.15,389.40 L64.14,389.45 L66.39,389.52 L69.03,389.61 L72.19,389.70 L75.99,389.80 L80.58,389.90 L86.07,390.01 L92.60,390.12 L100.46,390.22 L109.66,390.33 L119.89,390.45 L130.83,390.56 L142.19,390.68 L153.65,390.81 L164.90,390.94 L175.64,391.07 L186.40,391.20 L197.70,391.33 L209.21,391.47 L220.62,391.61 L231.59,391.75 L241.81,391.91 L250.95,392.08 L258.68,392.26 L264.90,392.45 L269.88,392.65 L273.84,392.85 L277.02,393.07 L279.63,393.30 L281.91,393.56 L284.07,393.85 L286.36,394.17 L288.58,394.52 L290.44,394.89 L292.00,395.28 L293.31,395.71 L294.46,396.16 L295.48,396.65 L296.45,397.17 L297.43,397.75 L298.36,398.37 L299.16,399.04 L299.86,399.76 L300.46,400.51 L301.00,401.28 L301.49,402.08 L301.95,402.89 L302.41,403.71 L302.86,404.53 L303.25,405.36 L303.60,406.20 L303.92,407.06 L304.20,407.95 L304.46,408.88 L304.69,409.85 L304.91,410.87 L305.10,411.94 L305.26,413.08 L305.40,414.27 L305.51,415.49 L305.60,416.72 L305.66,417.96 L305.71,419.20 L305.74,420.40 L305.71,421.61 L305.62,422.85 L305.48,424.09 L305.34,425.32 L305.21,426.54 L305.12,427.73 L305.10,428.87 L305.18,429.94 L305.37,430.51 L305.64,430.39 L305.98,429.97 L306.36,429.65 L306.77,429.81 L307.18,430.84 L307.58,433.14 L307.95,437.10 L308.31,442.96 L308.67,450.46 L309.05,459.21 L309.42,468.85 L309.78,478.99 L310.12,489.25 L310.44,499.27 L310.72,508.65 L310.96,517.95 L311.17,527.77 L311.36,537.79 L311.53,547.70 L311.68,557.21 L311.83,566.00 L311.97,573.77 L312.10,580.20 L312.24,585.23 L312.37,589.11 L312.49,592.04 L312.60,594.21 L312.71,595.83 L312.80,597.08 L312.87,598.17 L312.93,599.28 L314.04,608.82" fill="none" stroke="#ff7f0e" stroke-width="1.35" stroke-linejoin="round"/>
<path d="M62.15,389.40 L64.14,389.43 L66.39,389.47 L69.03,389.52 L72.19,389.58 L75.99,389.64 L80.58,389.71 L86.07,389.79 L92.60,389.88 L100.46,389.97 L109.66,390.08 L119.89,390.19 L130.83,390.31 L142.19,390.43 L153.65,390.56 L164.90,390.70 L175.64,390.83 L186.40,390.97 L197.70,391.11 L209.21,391.26 L220.62,391.41 L231.59,391.57 L241.81,391.72 L250.95,391.87 L258.68,392.02 L264.91,392.16 L269.89,392.28 L273.87,392.40 L277.05,392.52 L279.67,392.65 L281.94,392.80 L284.10,392.99 L286.36,393.22 L288.53,393.48 L290.31,393.77 L291.78,394.09 L293.00,394.44 L294.05,394.81 L295.00,395.21 L295.92,395.63 L296.88,396.08 L297.82,396.55 L298.66,397.04 L299.40,397.56 L300.08,398.11 L300.70,398.68 L301.28,399.29 L301.85,399.93 L302.41,400.61 L302.97,401.31 L303.48,402.03 L303.97,402.78 L304.42,403.56 L304.85,404.39 L305.26,405.28 L305.64,406.24 L306.01,407.29 L306.36,408.38 L306.68,409.49 L306.97,410.65 L307.24,411.88 L307.50,413.21 L307.74,414.65 L307.99,416.25 L308.23,418.02 L308.46,419.65 L308.69,420.97 L308.90,422.26 L309.11,423.76 L309.31,425.74 L309.51,428.45 L309.70,432.15 L309.89,437.10 L310.08,443.53 L310.26,451.30 L310.44,460.09 L310.61,469.60 L310.79,479.51 L310.95,489.53 L311.11,499.35 L311.27,508.65 L311.43,517.95 L311.58,527.77 L311.73,537.79 L311.88,547.70 L312.02,557.21 L312.15,566.00 L312.27,573.77 L312.38,580.20 L312.48,585.23 L312.57,589.11 L312.65,592.04 L312.73,594.21 L312.79,595.83 L312.85,597.08 L312.89,598.17 L312.93,599.28 L314.04,608.82" fill="none" stroke="#ffbb78" stroke-width="1.35" stroke-linejoin="round"/>
<path d="M62.15,389.40 L64.14,389.45 L66.39,389.51 L69.03,389.57 L72.19,389.65 L75.99,389.75 L80.58,389.85 L86.07,389.98 L92.60,390.12 L100.46,390.28 L109.66,390.46 L119.89,390.66 L130.83,390.88 L142.19,391.10 L153.65,391.33 L164.90,391.56 L175.64,391.78 L186.40,392.00 L197.70,392.20 L209.21,392.40 L220.62,392.60 L231.59,392.83 L241.81,393.08 L250.95,393.36 L258.68,393.69 L264.91,394.06 L269.89,394.46 L273.87,394.88 L277.05,395.33 L279.67,395.82 L281.94,396.34 L284.10,396.90 L286.36,397.51 L288.53,398.16 L290.31,398.87 L291.78,399.62 L293.00,400.40 L294.05,401.21 L295.00,402.04 L295.92,402.87 L296.88,403.71 L297.82,404.54 L298.66,405.38 L299.42,406.22 L300.10,407.08 L300.72,407.97 L301.30,408.89 L301.86,409.85 L302.41,410.87 L302.95,411.93 L303.43,413.03 L303.88,414.16 L304.30,415.34 L304.69,416.55 L305.05,417.80 L305.40,419.08 L305.74,420.40 L306.05,421.75 L306.34,423.11 L306.61,424.49 L306.86,425.92 L307.09,427.40 L307.30,428.96 L307.49,430.59 L307.67,432.33 L307.83,433.90 L307.95,435.16 L308.05,436.35 L308.14,437.70 L308.22,439.41 L308.30,441.72 L308.39,444.85 L308.50,449.02 L308.63,454.34 L308.76,460.63 L308.90,467.72 L309.04,475.41 L309.18,483.53 L309.33,491.90 L309.47,500.33 L309.61,508.65 L309.75,517.38 L309.89,526.93 L310.03,536.91 L310.16,546.96 L310.30,556.69 L310.44,565.72 L310.58,573.69 L310.72,580.20 L310.86,585.23 L311.02,589.11 L311.18,592.04 L311.34,594.21 L311.49,595.83 L311.63,597.08 L311.74,598.17 L311.83,599.28 L314.04,608.82" fill="none" stroke="#2ca02c" stroke-width="1.35" stroke-linejoin="round"/>
<path d="M62.15,389.40 L64.14,389.45 L66.39,389.51 L69.03,389.58 L72.19,389.67 L75.99,389.76 L80.58,389.87 L86.07,389.99 L92.60,390.12 L100.46,390.25 L109.66,390.39 L119.89,390.55 L130.83,390.71 L142.19,390.89 L153.65,391.09 L164.90,391.31 L175.64,391.55 L186.40,391.81 L197.70,392.10 L209.21,392.40 L220.62,392.72 L231.59,393.06 L241.81,393.42 L250.95,393.79 L258.68,394.17 L264.91,394.56 L269.91,394.97 L273.91,395.39 L277.10,395.82 L279.73,396.28 L282.00,396.75 L284.14,397.24 L286.36,397.75 L288.46,398.27 L290.13,398.80 L291.47,399.34 L292.55,399.91 L293.47,400.50 L294.30,401.13 L295.13,401.80 L296.05,402.52 L297.00,403.28 L297.88,404.08 L298.70,404.92 L299.47,405.80 L300.19,406.71 L300.87,407.66 L301.52,408.65 L302.14,409.67 L302.72,410.73 L303.24,411.81 L303.73,412.92 L304.18,414.07 L304.60,415.27 L304.99,416.52 L305.37,417.83 L305.74,419.21 L306.09,420.66 L306.41,422.16 L306.72,423.71 L307.00,425.32 L307.26,426.99 L307.51,428.72 L307.74,430.49 L307.95,432.33 L308.14,433.95 L308.31,435.25 L308.45,436.44 L308.57,437.77 L308.69,439.46 L308.81,441.75 L308.93,444.86 L309.06,449.02 L309.20,454.34 L309.33,460.63 L309.47,467.72 L309.61,475.41 L309.75,483.53 L309.89,491.90 L310.03,500.33 L310.16,508.65 L310.31,517.38 L310.45,526.93 L310.59,536.91 L310.74,546.96 L310.88,556.69 L311.01,565.72 L311.15,573.69 L311.27,580.20 L311.39,585.23 L311.52,589.11 L311.64,592.04 L311.76,594.21 L311.86,595.83 L311.96,597.08 L312.04,598.17 L312.10,599.28 L314.04,608.82" fill="none" stroke="#98df8a" stroke-width="1.35" stroke-linejoin="round"/>
<path d="M62.15,389.40 L64.14,389.43 L66.39,389.47 L69.03,389.52 L72.19,389.58 L75.99,389.64 L80.58,389.71 L86.07,389.79 L92.60,389.88 L100.46,389.97 L109.66,390.07 L119.89,390.18 L130.83,390.29 L142.19,390.42 L153.65,390.55 L164.90,390.69 L175.64,390.83 L186.40,390.99 L197.70,391.16 L209.21,391.33 L220.62,391.52 L231.59,391.70 L241.81,391.89 L250.95,392.08 L258.68,392.26 L264.90,392.42 L269.88,392.56 L273.84,392.68 L277.02,392.81 L279.63,392.96 L281.91,393.15 L284.07,393.39 L286.36,393.69 L288.58,394.06 L290.43,394.48 L291.97,394.94 L293.28,395.44 L294.42,395.97 L295.44,396.54 L296.43,397.13 L297.43,397.75 L298.40,398.38 L299.26,399.02 L300.01,399.69 L300.68,400.39 L301.30,401.13 L301.87,401.92 L302.42,402.78 L302.97,403.71 L303.50,404.72 L303.99,405.79 L304.44,406.92 L304.85,408.11 L305.24,409.34 L305.61,410.61 L305.96,411.92 L306.29,413.25 L306.60,414.59 L306.88,415.95 L307.14,417.34 L307.38,418.77 L307.60,420.25 L307.81,421.80 L308.02,423.44 L308.23,425.17 L308.42,426.69 L308.61,427.84 L308.77,428.89 L308.94,430.09 L309.10,431.73 L309.26,434.06 L309.43,437.35 L309.61,441.87 L309.81,447.95 L310.03,455.49 L310.26,464.08 L310.49,473.32 L310.72,482.80 L310.93,492.12 L311.12,500.87 L311.27,508.65 L311.40,515.85 L311.50,523.03 L311.59,530.03 L311.65,536.67 L311.71,542.79 L311.75,548.23 L311.79,552.80 L311.83,556.35 L311.79,558.24 L311.74,560.80 L311.68,563.86 L311.62,567.23 L311.54,570.73 L311.46,574.18 L311.37,577.40 L311.27,580.20 L311.16,582.66 L311.03,584.99 L310.90,587.19 L310.75,589.29 L310.60,591.30 L310.45,593.22 L310.31,595.09 L310.16,596.89 L310.03,598.65 L309.89,600.32 L309.76,601.93 L309.63,603.45 L309.49,604.91 L309.35,606.29 L309.21,607.59 L309.06,608.82 L308.90,609.97 L308.72,611.03 L308.55,612.01 L308.37,612.92 L308.18,613.76 L308.01,614.55 L307.84,615.28 L307.67,615.98 L307.51,616.62 L307.35,617.20 L307.19,617.74 L307.03,618.21 L306.89,618.63 L306.76,618.99 L306.65,619.30 L306.57,619.55 L314.04,619.55" fill="none" stroke="#d62728" stroke-width="1.35" stroke-linejoin="round"/>
<path d="M62.15,389.40 L64.14,389.42 L66.39,389.44 L69.03,389.46 L72.19,389.49 L75.99,389.52 L80.58,389.56 L86.07,389.60 L92.60,389.64 L100.46,389.69 L109.66,389.74 L119.89,389.80 L130.83,389.86 L142.19,389.93 L153.65,389.99 L164.90,390.05 L175.64,390.12 L186.40,390.17 L197.70,390.22 L209.21,390.26 L220.62,390.31 L231.59,390.36 L241.81,390.42 L250.95,390.50 L258.68,390.59 L264.91,390.70 L269.89,390.82 L273.87,390.95 L277.05,391.08 L279.67,391.24 L281.94,391.40 L284.10,391.59 L286.36,391.78 L288.53,392.00 L290.30,392.22 L291.76,392.45 L292.97,392.69 L294.01,392.96 L294.96,393.26 L295.89,393.58 L296.88,393.93 L297.87,394.32 L298.79,394.74 L299.63,395.19 L300.41,395.66 L301.12,396.16 L301.78,396.67 L302.40,397.20 L302.97,397.75 L303.48,398.31 L303.91,398.90 L304.27,399.51 L304.59,400.13 L304.88,400.77 L305.16,401.43 L305.44,402.09 L305.74,402.76 L306.04,403.41 L306.34,404.05 L306.63,404.68 L306.91,405.33 L307.18,406.02 L307.45,406.76 L307.70,407.58 L307.95,408.48 L308.18,409.42 L308.40,410.37 L308.61,411.36 L308.82,412.42 L309.01,413.58 L309.21,414.87 L309.41,416.34 L309.61,418.02 L309.82,419.59 L310.05,420.89 L310.27,422.17 L310.49,423.68 L310.71,425.68 L310.92,428.42 L311.10,432.14 L311.27,437.10 L311.42,443.53 L311.54,451.30 L311.64,460.09 L311.74,469.60 L311.83,479.51 L311.91,489.53 L312.00,499.35 L312.10,508.65 L312.21,517.95 L312.32,527.77 L312.43,537.79 L312.53,547.70 L312.64,557.21 L312.74,566.00 L312.84,573.77 L312.93,580.20 L313.02,585.23 L313.10,589.11 L313.19,592.04 L313.26,594.21 L313.33,595.83 L313.39,597.08 L313.45,598.17 L313.49,599.28 L314.04,608.82" fill="none" stroke="#ff9896" stroke-width="1.35" stroke-linejoin="round"/>
<path d="M62.15,389.40 L64.14,389.45 L66.39,389.52 L69.03,389.61 L72.19,389.70 L75.99,389.80 L80.58,389.90 L86.07,390.01 L92.60,390.12 L100.46,390.22 L109.66,390.34 L119.89,390.46 L130.83,390.58 L142.19,390.70 L153.65,390.83 L164.90,390.95 L175.64,391.07 L186.40,391.19 L197.70,391.30 L209.21,391.42 L220.62,391.53 L231.59,391.65 L241.81,391.77 L250.95,391.89 L258.68,392.02 L264.90,392.15 L269.88,392.25 L273.84,392.36 L277.02,392.47 L279.63,392.60 L281.91,392.76 L284.07,392.96 L286.36,393.22 L288.58,393.52 L290.43,393.87 L291.97,394.25 L293.28,394.66 L294.42,395.10 L295.44,395.57 L296.43,396.05 L297.43,396.55 L298.40,397.07 L299.26,397.59 L300.01,398.13 L300.68,398.70 L301.30,399.30 L301.87,399.93 L302.42,400.60 L302.97,401.32 L303.50,402.07 L303.98,402.83 L304.42,403.62 L304.84,404.46 L305.22,405.34 L305.59,406.30 L305.94,407.34 L306.29,408.48 L306.62,409.71 L306.92,411.01 L307.20,412.39 L307.47,413.85 L307.72,415.37 L307.98,416.98 L308.23,418.65 L308.50,420.40 L308.78,421.89 L309.07,422.96 L309.36,423.91 L309.65,425.03 L309.93,426.61 L310.20,428.96 L310.47,432.36 L310.72,437.10 L310.96,443.42 L311.19,451.13 L311.41,459.91 L311.62,469.45 L311.82,479.41 L312.02,489.48 L312.20,499.33 L312.38,508.65 L312.55,517.92 L312.71,527.66 L312.86,537.58 L313.00,547.41 L313.14,556.86 L313.26,565.67 L313.38,573.54 L313.49,580.20 L313.59,585.63 L313.68,590.08 L313.76,593.69 L313.83,596.60 L313.90,598.95 L313.95,600.88 L314.00,602.54 L314.04,604.05 L314.04,627.90" fill="none" stroke="#9467bd" stroke-width="1.35" stroke-linejoin="round"/>
</g>
<rect x="56.8" y="462.2" width="69.4" height="169.8" rx="2.5" fill="#fff" fill-opacity="1" stroke="#e8e8e8" stroke-width="0.8"/>
<line x1="61.699999999999996" y1="472.80" x2="88.19999999999999" y2="472.80" stroke="#1f77b4" stroke-width="1.5"/>
<text transform="translate(97.80,477.90) scale(0.86,1.06)" class="leg" text-anchor="start">C 1</text>
<line x1="61.699999999999996" y1="491.40" x2="88.19999999999999" y2="491.40" stroke="#aec7e8" stroke-width="1.5"/>
<text transform="translate(97.80,496.50) scale(0.86,1.06)" class="leg" text-anchor="start">C 2</text>
<line x1="61.699999999999996" y1="510.00" x2="88.19999999999999" y2="510.00" stroke="#ff7f0e" stroke-width="1.5"/>
<text transform="translate(97.80,515.10) scale(0.86,1.06)" class="leg" text-anchor="start">C 3</text>
<line x1="61.699999999999996" y1="528.60" x2="88.19999999999999" y2="528.60" stroke="#ffbb78" stroke-width="1.5"/>
<text transform="translate(97.80,533.70) scale(0.86,1.06)" class="leg" text-anchor="start">C 4</text>
<line x1="61.699999999999996" y1="547.20" x2="88.19999999999999" y2="547.20" stroke="#2ca02c" stroke-width="1.5"/>
<text transform="translate(97.80,552.30) scale(0.86,1.06)" class="leg" text-anchor="start">C 5</text>
<line x1="61.699999999999996" y1="565.80" x2="88.19999999999999" y2="565.80" stroke="#98df8a" stroke-width="1.5"/>
<text transform="translate(97.80,570.90) scale(0.86,1.06)" class="leg" text-anchor="start">C 6</text>
<line x1="61.699999999999996" y1="584.40" x2="88.19999999999999" y2="584.40" stroke="#d62728" stroke-width="1.5"/>
<text transform="translate(97.80,589.50) scale(0.86,1.06)" class="leg" text-anchor="start">C 7</text>
<line x1="61.699999999999996" y1="603.00" x2="88.19999999999999" y2="603.00" stroke="#ff9896" stroke-width="1.5"/>
<text transform="translate(97.80,608.10) scale(0.86,1.06)" class="leg" text-anchor="start">C 8</text>
<line x1="61.699999999999996" y1="621.60" x2="88.19999999999999" y2="621.60" stroke="#9467bd" stroke-width="1.5"/>
<text transform="translate(97.80,626.70) scale(0.86,1.06)" class="leg" text-anchor="start">C 9</text>
<rect x="50.5" y="377.4" width="275.9" height="261.80000000000007" fill="none" stroke="#666" stroke-width="1"/>
<line x1="92.60" y1="639.2" x2="92.60" y2="643.7" stroke="#555" stroke-width="0.9"/>
<text transform="translate(92.90,655.30) scale(1.0,1.08)" class="tick" text-anchor="middle">0.2</text>
<line x1="147.96" y1="639.2" x2="147.96" y2="643.7" stroke="#555" stroke-width="0.9"/>
<text transform="translate(148.26,655.30) scale(1.0,1.08)" class="tick" text-anchor="middle">0.4</text>
<line x1="203.32" y1="639.2" x2="203.32" y2="643.7" stroke="#555" stroke-width="0.9"/>
<text transform="translate(203.62,655.30) scale(1.0,1.08)" class="tick" text-anchor="middle">0.6</text>
<line x1="258.68" y1="639.2" x2="258.68" y2="643.7" stroke="#555" stroke-width="0.9"/>
<text transform="translate(258.98,655.30) scale(1.0,1.08)" class="tick" text-anchor="middle">0.8</text>
<line x1="314.04" y1="639.2" x2="314.04" y2="643.7" stroke="#555" stroke-width="0.9"/>
<text transform="translate(314.34,655.30) scale(1.0,1.08)" class="tick" text-anchor="middle">1.0</text>
<line x1="51.08" y1="639.2" x2="51.08" y2="641.2" stroke="#777" stroke-width="0.7"/>
<line x1="64.92" y1="639.2" x2="64.92" y2="641.2" stroke="#777" stroke-width="0.7"/>
<line x1="78.76" y1="639.2" x2="78.76" y2="641.2" stroke="#777" stroke-width="0.7"/>
<line x1="106.44" y1="639.2" x2="106.44" y2="641.2" stroke="#777" stroke-width="0.7"/>
<line x1="120.28" y1="639.2" x2="120.28" y2="641.2" stroke="#777" stroke-width="0.7"/>
<line x1="134.12" y1="639.2" x2="134.12" y2="641.2" stroke="#777" stroke-width="0.7"/>
<line x1="161.80" y1="639.2" x2="161.80" y2="641.2" stroke="#777" stroke-width="0.7"/>
<line x1="175.64" y1="639.2" x2="175.64" y2="641.2" stroke="#777" stroke-width="0.7"/>
<line x1="189.48" y1="639.2" x2="189.48" y2="641.2" stroke="#777" stroke-width="0.7"/>
<line x1="217.16" y1="639.2" x2="217.16" y2="641.2" stroke="#777" stroke-width="0.7"/>
<line x1="231.00" y1="639.2" x2="231.00" y2="641.2" stroke="#777" stroke-width="0.7"/>
<line x1="244.84" y1="639.2" x2="244.84" y2="641.2" stroke="#777" stroke-width="0.7"/>
<line x1="272.52" y1="639.2" x2="272.52" y2="641.2" stroke="#777" stroke-width="0.7"/>
<line x1="286.36" y1="639.2" x2="286.36" y2="641.2" stroke="#777" stroke-width="0.7"/>
<line x1="300.20" y1="639.2" x2="300.20" y2="641.2" stroke="#777" stroke-width="0.7"/>
<line x1="46.0" y1="627.90" x2="50.5" y2="627.90" stroke="#555" stroke-width="0.9"/>
<text transform="translate(43.90,631.00) scale(1.0,1.08)" class="tick" text-anchor="end">0.0</text>
<line x1="46.0" y1="580.20" x2="50.5" y2="580.20" stroke="#555" stroke-width="0.9"/>
<text transform="translate(43.90,583.30) scale(1.0,1.08)" class="tick" text-anchor="end">0.2</text>
<line x1="46.0" y1="532.50" x2="50.5" y2="532.50" stroke="#555" stroke-width="0.9"/>
<text transform="translate(43.90,535.60) scale(1.0,1.08)" class="tick" text-anchor="end">0.4</text>
<line x1="46.0" y1="484.80" x2="50.5" y2="484.80" stroke="#555" stroke-width="0.9"/>
<text transform="translate(43.90,487.90) scale(1.0,1.08)" class="tick" text-anchor="end">0.6</text>
<line x1="46.0" y1="437.10" x2="50.5" y2="437.10" stroke="#555" stroke-width="0.9"/>
<text transform="translate(43.90,440.20) scale(1.0,1.08)" class="tick" text-anchor="end">0.8</text>
<line x1="46.0" y1="389.40" x2="50.5" y2="389.40" stroke="#555" stroke-width="0.9"/>
<text transform="translate(43.90,392.50) scale(1.0,1.08)" class="tick" text-anchor="end">1.0</text>
<line x1="48.5" y1="615.98" x2="50.5" y2="615.98" stroke="#777" stroke-width="0.7"/>
<line x1="48.5" y1="604.05" x2="50.5" y2="604.05" stroke="#777" stroke-width="0.7"/>
<line x1="48.5" y1="592.12" x2="50.5" y2="592.12" stroke="#777" stroke-width="0.7"/>
<line x1="48.5" y1="568.27" x2="50.5" y2="568.27" stroke="#777" stroke-width="0.7"/>
<line x1="48.5" y1="556.35" x2="50.5" y2="556.35" stroke="#777" stroke-width="0.7"/>
<line x1="48.5" y1="544.42" x2="50.5" y2="544.42" stroke="#777" stroke-width="0.7"/>
<line x1="48.5" y1="520.57" x2="50.5" y2="520.57" stroke="#777" stroke-width="0.7"/>
<line x1="48.5" y1="508.65" x2="50.5" y2="508.65" stroke="#777" stroke-width="0.7"/>
<line x1="48.5" y1="496.72" x2="50.5" y2="496.72" stroke="#777" stroke-width="0.7"/>
<line x1="48.5" y1="472.88" x2="50.5" y2="472.88" stroke="#777" stroke-width="0.7"/>
<line x1="48.5" y1="460.95" x2="50.5" y2="460.95" stroke="#777" stroke-width="0.7"/>
<line x1="48.5" y1="449.02" x2="50.5" y2="449.02" stroke="#777" stroke-width="0.7"/>
<line x1="48.5" y1="425.17" x2="50.5" y2="425.17" stroke="#777" stroke-width="0.7"/>
<line x1="48.5" y1="413.25" x2="50.5" y2="413.25" stroke="#777" stroke-width="0.7"/>
<line x1="48.5" y1="401.32" x2="50.5" y2="401.32" stroke="#777" stroke-width="0.7"/>
<text transform="translate(188.45,365.60)" class="ttl2" text-anchor="middle">Precision-Recall Curve (80:20)</text>
<text transform="translate(187.90,676.20) scale(1.0,1.15)" class="axl" text-anchor="middle">Recall</text>
<text transform="translate(11.60,510.30) rotate(-90) scale(1.0,1.1)" class="axl" text-anchor="middle">Precision</text>
<text transform="translate(186.00,699.00)" class="sub" text-anchor="middle">(c)</text>
<line x1="431.52" y1="377.4" x2="431.52" y2="639.2" stroke="#efefef" stroke-width="1"/>
<line x1="444.05" y1="377.4" x2="444.05" y2="639.2" stroke="#efefef" stroke-width="1"/>
<line x1="456.57" y1="377.4" x2="456.57" y2="639.2" stroke="#efefef" stroke-width="1"/>
<line x1="481.62" y1="377.4" x2="481.62" y2="639.2" stroke="#efefef" stroke-width="1"/>
<line x1="494.15" y1="377.4" x2="494.15" y2="639.2" stroke="#efefef" stroke-width="1"/>
<line x1="506.68" y1="377.4" x2="506.68" y2="639.2" stroke="#efefef" stroke-width="1"/>
<line x1="531.73" y1="377.4" x2="531.73" y2="639.2" stroke="#efefef" stroke-width="1"/>
<line x1="544.25" y1="377.4" x2="544.25" y2="639.2" stroke="#efefef" stroke-width="1"/>
<line x1="556.77" y1="377.4" x2="556.77" y2="639.2" stroke="#efefef" stroke-width="1"/>
<line x1="581.83" y1="377.4" x2="581.83" y2="639.2" stroke="#efefef" stroke-width="1"/>
<line x1="594.35" y1="377.4" x2="594.35" y2="639.2" stroke="#efefef" stroke-width="1"/>
<line x1="606.88" y1="377.4" x2="606.88" y2="639.2" stroke="#efefef" stroke-width="1"/>
<line x1="631.92" y1="377.4" x2="631.92" y2="639.2" stroke="#efefef" stroke-width="1"/>
<line x1="644.45" y1="377.4" x2="644.45" y2="639.2" stroke="#efefef" stroke-width="1"/>
<line x1="656.98" y1="377.4" x2="656.98" y2="639.2" stroke="#efefef" stroke-width="1"/>
<line x1="406.6" y1="615.98" x2="681.8" y2="615.98" stroke="#efefef" stroke-width="1"/>
<line x1="406.6" y1="604.05" x2="681.8" y2="604.05" stroke="#efefef" stroke-width="1"/>
<line x1="406.6" y1="592.12" x2="681.8" y2="592.12" stroke="#efefef" stroke-width="1"/>
<line x1="406.6" y1="568.27" x2="681.8" y2="568.27" stroke="#efefef" stroke-width="1"/>
<line x1="406.6" y1="556.35" x2="681.8" y2="556.35" stroke="#efefef" stroke-width="1"/>
<line x1="406.6" y1="544.42" x2="681.8" y2="544.42" stroke="#efefef" stroke-width="1"/>
<line x1="406.6" y1="520.57" x2="681.8" y2="520.57" stroke="#efefef" stroke-width="1"/>
<line x1="406.6" y1="508.65" x2="681.8" y2="508.65" stroke="#efefef" stroke-width="1"/>
<line x1="406.6" y1="496.72" x2="681.8" y2="496.72" stroke="#efefef" stroke-width="1"/>
<line x1="406.6" y1="472.88" x2="681.8" y2="472.88" stroke="#efefef" stroke-width="1"/>
<line x1="406.6" y1="460.95" x2="681.8" y2="460.95" stroke="#efefef" stroke-width="1"/>
<line x1="406.6" y1="449.02" x2="681.8" y2="449.02" stroke="#efefef" stroke-width="1"/>
<line x1="406.6" y1="425.17" x2="681.8" y2="425.17" stroke="#efefef" stroke-width="1"/>
<line x1="406.6" y1="413.25" x2="681.8" y2="413.25" stroke="#efefef" stroke-width="1"/>
<line x1="406.6" y1="401.32" x2="681.8" y2="401.32" stroke="#efefef" stroke-width="1"/>
<line x1="419.00" y1="377.4" x2="419.00" y2="639.2" stroke="#b0b0b0" stroke-width="0.9" stroke-dasharray="2.2 1.3"/>
<line x1="469.10" y1="377.4" x2="469.10" y2="639.2" stroke="#b0b0b0" stroke-width="0.9" stroke-dasharray="2.2 1.3"/>
<line x1="519.20" y1="377.4" x2="519.20" y2="639.2" stroke="#b0b0b0" stroke-width="0.9" stroke-dasharray="2.2 1.3"/>
<line x1="569.30" y1="377.4" x2="569.30" y2="639.2" stroke="#b0b0b0" stroke-width="0.9" stroke-dasharray="2.2 1.3"/>
<line x1="619.40" y1="377.4" x2="619.40" y2="639.2" stroke="#b0b0b0" stroke-width="0.9" stroke-dasharray="2.2 1.3"/>
<line x1="669.50" y1="377.4" x2="669.50" y2="639.2" stroke="#b0b0b0" stroke-width="0.9" stroke-dasharray="2.2 1.3"/>
<line x1="406.6" y1="627.90" x2="681.8" y2="627.90" stroke="#b0b0b0" stroke-width="0.9" stroke-dasharray="2.2 1.3"/>
<line x1="406.6" y1="580.20" x2="681.8" y2="580.20" stroke="#b0b0b0" stroke-width="0.9" stroke-dasharray="2.2 1.3"/>
<line x1="406.6" y1="532.50" x2="681.8" y2="532.50" stroke="#b0b0b0" stroke-width="0.9" stroke-dasharray="2.2 1.3"/>
<line x1="406.6" y1="484.80" x2="681.8" y2="484.80" stroke="#b0b0b0" stroke-width="0.9" stroke-dasharray="2.2 1.3"/>
<line x1="406.6" y1="437.10" x2="681.8" y2="437.10" stroke="#b0b0b0" stroke-width="0.9" stroke-dasharray="2.2 1.3"/>
<line x1="406.6" y1="389.40" x2="681.8" y2="389.40" stroke="#b0b0b0" stroke-width="0.9" stroke-dasharray="2.2 1.3"/>
<clipPath id="clipd"><rect x="406.6" y="377.4" width="275.19999999999993" height="261.80000000000007"/></clipPath>
<g clip-path="url(#clipd)">
<path d="M419.00,627.90 L419.00,614.12 L419.00,594.83 L419.00,571.76 L419.00,546.66 L419.00,521.29 L419.00,497.38 L419.00,476.68 L419.00,460.95 L419.02,450.09 L419.04,442.39 L419.06,437.19 L419.09,433.82 L419.13,431.60 L419.16,429.87 L419.21,427.95 L419.25,425.17 L419.30,421.92 L419.35,418.98 L419.40,416.33 L419.45,413.92 L419.52,411.73 L419.59,409.72 L419.66,407.85 L419.75,406.09 L419.85,404.51 L419.96,403.15 L420.07,401.99 L420.19,400.98 L420.32,400.09 L420.46,399.28 L420.60,398.51 L420.75,397.75 L420.90,397.02 L421.03,396.38 L421.16,395.82 L421.30,395.32 L421.47,394.87 L421.68,394.46 L421.93,394.07 L422.26,393.69 L422.57,393.34 L422.82,393.04 L423.07,392.77 L423.38,392.53 L423.82,392.32 L424.45,392.13 L425.33,391.95 L426.51,391.78 L427.85,391.64 L429.20,391.52 L430.69,391.42 L432.42,391.34 L434.51,391.27 L437.07,391.20 L440.21,391.14 L444.05,391.07 L448.58,391.00 L453.70,390.93 L459.35,390.87 L465.50,390.82 L472.10,390.76 L479.10,390.71 L486.47,390.65 L494.15,390.59 L502.17,390.53 L510.59,390.48 L519.40,390.42 L528.59,390.37 L538.18,390.31 L548.16,390.25 L558.54,390.19 L569.30,390.12 L581.31,390.03 L594.94,389.94 L609.44,389.83 L624.10,389.73 L638.16,389.63 L650.91,389.53 L661.60,389.46 L669.50,389.40" fill="none" stroke="#1f77b4" stroke-width="1.35" stroke-linejoin="round"/>
<path d="M419.00,627.90 L419.00,614.12 L419.00,594.83 L419.00,571.76 L419.00,546.66 L419.00,521.29 L419.00,497.38 L419.00,476.68 L419.00,460.95 L419.03,450.07 L419.07,442.34 L419.12,437.09 L419.17,433.67 L419.24,431.43 L419.31,429.70 L419.40,427.84 L419.50,425.17 L419.62,422.12 L419.75,419.46 L419.89,417.15 L420.05,415.11 L420.21,413.29 L420.39,411.62 L420.57,410.04 L420.75,408.48 L420.94,407.00 L421.12,405.69 L421.30,404.53 L421.49,403.49 L421.70,402.55 L421.93,401.69 L422.20,400.89 L422.51,400.13 L422.86,399.44 L423.26,398.85 L423.69,398.35 L424.15,397.91 L424.62,397.53 L425.10,397.19 L425.56,396.87 L426.01,396.55 L426.42,396.28 L426.77,396.05 L427.10,395.87 L427.44,395.72 L427.82,395.58 L428.27,395.45 L428.83,395.30 L429.52,395.12 L430.30,394.93 L431.12,394.72 L432.01,394.52 L432.98,394.30 L434.07,394.09 L435.30,393.88 L436.70,393.66 L438.29,393.45 L439.82,393.24 L441.15,393.02 L442.50,392.80 L444.07,392.58 L446.05,392.36 L448.66,392.15 L452.10,391.96 L456.57,391.78 L461.68,391.63 L467.06,391.51 L472.96,391.40 L479.64,391.29 L487.35,391.19 L496.34,391.09 L506.87,390.97 L519.20,390.83 L534.82,390.67 L554.13,390.47 L575.75,390.27 L598.26,390.06 L620.29,389.85 L640.44,389.67 L657.31,389.51 L669.50,389.40" fill="none" stroke="#aec7e8" stroke-width="1.35" stroke-linejoin="round"/>
<path d="M419.00,627.90 L419.00,614.12 L419.00,594.83 L419.00,571.76 L419.00,546.66 L419.00,521.29 L419.00,497.38 L419.00,476.68 L419.00,460.95 L419.02,450.09 L419.04,442.39 L419.06,437.19 L419.09,433.82 L419.13,431.60 L419.16,429.87 L419.21,427.95 L419.25,425.17 L419.30,421.91 L419.35,418.97 L419.40,416.30 L419.45,413.89 L419.52,411.70 L419.59,409.69 L419.66,407.83 L419.75,406.09 L419.85,404.55 L419.95,403.25 L420.06,402.15 L420.17,401.22 L420.30,400.40 L420.44,399.66 L420.59,398.95 L420.75,398.22 L420.92,397.52 L421.09,396.89 L421.26,396.33 L421.44,395.82 L421.65,395.37 L421.89,394.94 L422.17,394.55 L422.51,394.17 L422.81,393.82 L423.03,393.52 L423.25,393.26 L423.52,393.02 L423.92,392.81 L424.51,392.62 L425.35,392.44 L426.51,392.26 L427.84,392.09 L429.18,391.95 L430.67,391.81 L432.40,391.70 L434.49,391.59 L437.06,391.49 L440.21,391.40 L444.05,391.31 L448.58,391.23 L453.70,391.16 L459.35,391.09 L465.50,391.04 L472.10,390.99 L479.10,390.94 L486.47,390.89 L494.15,390.83 L502.17,390.77 L510.59,390.72 L519.40,390.67 L528.59,390.62 L538.18,390.57 L548.16,390.51 L558.54,390.44 L569.30,390.35 L581.31,390.25 L594.94,390.13 L609.44,389.99 L624.10,389.85 L638.16,389.71 L650.91,389.58 L661.60,389.48 L669.50,389.40" fill="none" stroke="#ff7f0e" stroke-width="1.35" stroke-linejoin="round"/>
<path d="M419.00,627.90 L419.00,614.12 L419.00,594.83 L419.00,571.76 L419.00,546.66 L419.00,521.29 L419.00,497.38 L419.00,476.68 L419.00,460.95 L419.02,450.09 L419.04,442.39 L419.06,437.19 L419.09,433.82 L419.13,431.60 L419.16,429.87 L419.21,427.95 L419.25,425.17 L419.30,421.91 L419.35,418.97 L419.40,416.30 L419.45,413.89 L419.52,411.70 L419.59,409.69 L419.66,407.83 L419.75,406.09 L419.85,404.55 L419.95,403.25 L420.06,402.15 L420.17,401.22 L420.30,400.40 L420.44,399.66 L420.59,398.95 L420.75,398.22 L420.92,397.52 L421.09,396.89 L421.26,396.32 L421.44,395.81 L421.65,395.35 L421.89,394.93 L422.17,394.54 L422.51,394.17 L422.81,393.84 L423.03,393.57 L423.25,393.34 L423.52,393.14 L423.92,392.97 L424.51,392.81 L425.35,392.66 L426.51,392.50 L427.84,392.34 L429.18,392.20 L430.67,392.07 L432.40,391.95 L434.49,391.84 L437.06,391.73 L440.21,391.64 L444.05,391.55 L448.34,391.46 L452.88,391.38 L457.81,391.31 L463.31,391.25 L469.53,391.19 L476.63,391.14 L484.79,391.10 L494.15,391.07 L505.79,391.05 L520.00,391.06 L535.81,391.08 L552.23,391.10 L568.28,391.12 L582.98,391.13 L595.34,391.11 L604.37,391.07 L609.43,390.99 L611.16,390.89 L610.56,390.77 L608.60,390.64 L606.27,390.50 L604.55,390.36 L604.42,390.23 L606.88,390.12 L612.25,390.01 L619.77,389.90 L628.71,389.80 L638.34,389.70 L647.96,389.61 L656.84,389.52 L664.26,389.45 L669.50,389.40" fill="none" stroke="#ffbb78" stroke-width="1.35" stroke-linejoin="round"/>
<path d="M419.00,627.90 L419.00,614.12 L419.00,594.83 L419.00,571.76 L419.00,546.66 L419.00,521.29 L419.00,497.38 L419.00,476.68 L419.00,460.95 L419.02,450.07 L419.04,442.34 L419.06,437.09 L419.09,433.67 L419.13,431.43 L419.16,429.70 L419.21,427.84 L419.25,425.17 L419.30,422.13 L419.35,419.50 L419.40,417.22 L419.45,415.22 L419.52,413.41 L419.59,411.74 L419.66,410.12 L419.75,408.48 L419.85,406.87 L419.96,405.37 L420.07,403.98 L420.19,402.70 L420.32,401.51 L420.46,400.41 L420.60,399.40 L420.75,398.46 L420.90,397.64 L421.03,396.93 L421.16,396.33 L421.30,395.81 L421.47,395.35 L421.68,394.94 L421.93,394.55 L422.26,394.17 L422.57,393.81 L422.82,393.50 L423.07,393.24 L423.38,393.01 L423.82,392.80 L424.45,392.62 L425.33,392.44 L426.51,392.26 L427.85,392.09 L429.20,391.95 L430.69,391.81 L432.42,391.70 L434.51,391.59 L437.07,391.49 L440.21,391.40 L444.05,391.31 L448.58,391.23 L453.70,391.16 L459.35,391.09 L465.50,391.04 L472.10,390.99 L479.10,390.94 L486.47,390.89 L494.15,390.83 L502.17,390.77 L510.59,390.72 L519.40,390.67 L528.59,390.62 L538.18,390.57 L548.16,390.51 L558.54,390.44 L569.30,390.35 L581.31,390.25 L594.94,390.13 L609.44,389.99 L624.10,389.85 L638.16,389.71 L650.91,389.58 L661.60,389.48 L669.50,389.40" fill="none" stroke="#2ca02c" stroke-width="1.35" stroke-linejoin="round"/>
<path d="M419.00,627.90 L419.00,614.12 L419.00,594.83 L419.00,571.76 L419.00,546.66 L419.00,521.29 L419.00,497.38 L419.00,476.68 L419.00,460.95 L419.02,450.07 L419.03,442.34 L419.05,437.09 L419.08,433.67 L419.11,431.43 L419.15,429.70 L419.19,427.84 L419.25,425.17 L419.32,422.12 L419.39,419.46 L419.46,417.15 L419.55,415.11 L419.64,413.29 L419.75,411.62 L419.87,410.04 L420.00,408.48 L420.15,407.01 L420.31,405.71 L420.48,404.56 L420.66,403.53 L420.85,402.60 L421.06,401.74 L421.28,400.92 L421.50,400.13 L421.71,399.39 L421.89,398.74 L422.06,398.15 L422.26,397.63 L422.50,397.15 L422.81,396.70 L423.22,396.27 L423.76,395.84 L424.41,395.42 L425.15,395.04 L425.96,394.68 L426.86,394.35 L427.84,394.04 L428.90,393.75 L430.05,393.48 L431.27,393.22 L432.36,392.98 L433.22,392.76 L434.04,392.57 L435.00,392.40 L436.29,392.23 L438.11,392.08 L440.63,391.93 L444.05,391.78 L448.36,391.64 L453.36,391.50 L459.00,391.37 L465.20,391.25 L471.89,391.13 L478.99,391.02 L486.43,390.92 L494.15,390.83 L502.17,390.75 L510.59,390.69 L519.40,390.64 L528.59,390.59 L538.18,390.55 L548.16,390.50 L558.54,390.43 L569.30,390.35 L581.31,390.25 L594.94,390.13 L609.44,389.99 L624.10,389.85 L638.16,389.71 L650.91,389.58 L661.60,389.48 L669.50,389.40" fill="none" stroke="#98df8a" stroke-width="1.35" stroke-linejoin="round"/>
<path d="M419.00,627.90 L419.00,614.07 L419.00,594.66 L419.00,571.44 L419.00,546.21 L419.00,520.76 L419.00,496.87 L419.00,476.34 L419.00,460.95 L419.04,450.69 L419.09,443.85 L419.15,439.67 L419.22,437.40 L419.29,436.28 L419.36,435.57 L419.43,434.51 L419.50,432.33 L419.56,429.46 L419.62,426.78 L419.68,424.27 L419.74,421.90 L419.80,419.64 L419.86,417.46 L419.93,415.34 L420.00,413.25 L420.08,411.17 L420.15,409.12 L420.23,407.14 L420.32,405.23 L420.41,403.43 L420.51,401.77 L420.62,400.26 L420.75,398.94 L420.89,397.83 L421.01,396.91 L421.14,396.16 L421.29,395.54 L421.46,395.02 L421.67,394.56 L421.93,394.13 L422.26,393.69 L422.57,393.29 L422.82,392.96 L423.07,392.69 L423.38,392.47 L423.82,392.28 L424.45,392.12 L425.33,391.96 L426.51,391.78 L427.85,391.62 L429.20,391.47 L430.69,391.34 L432.42,391.22 L434.51,391.11 L437.07,391.01 L440.21,390.92 L444.05,390.83 L448.58,390.75 L453.70,390.68 L459.35,390.62 L465.50,390.56 L472.10,390.51 L479.10,390.46 L486.47,390.41 L494.15,390.35 L502.17,390.29 L510.59,390.23 L519.40,390.18 L528.59,390.12 L538.18,390.06 L548.16,390.00 L558.54,389.94 L569.30,389.88 L581.31,389.81 L594.94,389.75 L609.44,389.68 L624.10,389.61 L638.16,389.54 L650.91,389.49 L661.60,389.44 L669.50,389.40" fill="none" stroke="#d62728" stroke-width="1.35" stroke-linejoin="round"/>
<path d="M419.00,627.90 L419.00,614.12 L419.00,594.83 L419.00,571.76 L419.00,546.66 L419.00,521.29 L419.00,497.38 L419.00,476.68 L419.00,460.95 L419.02,450.10 L419.04,442.45 L419.06,437.30 L419.09,433.97 L419.13,431.78 L419.16,430.04 L419.21,428.07 L419.25,425.17 L419.30,421.71 L419.35,418.48 L419.41,415.47 L419.47,412.68 L419.53,410.12 L419.60,407.77 L419.68,405.63 L419.75,403.71 L419.83,402.07 L419.90,400.74 L419.98,399.67 L420.06,398.79 L420.16,398.05 L420.26,397.39 L420.37,396.75 L420.50,396.08 L420.63,395.40 L420.76,394.80 L420.88,394.26 L421.02,393.78 L421.19,393.35 L421.40,392.96 L421.67,392.60 L422.01,392.26 L422.34,391.96 L422.62,391.71 L422.90,391.51 L423.26,391.34 L423.74,391.19 L424.40,391.07 L425.31,390.95 L426.51,390.83 L427.86,390.72 L429.22,390.64 L430.71,390.57 L432.43,390.52 L434.52,390.47 L437.07,390.43 L440.21,390.40 L444.05,390.35 L448.58,390.31 L453.70,390.28 L459.35,390.25 L465.50,390.22 L472.10,390.19 L479.10,390.17 L486.47,390.14 L494.15,390.12 L502.17,390.09 L510.59,390.06 L519.40,390.04 L528.59,390.01 L538.18,389.98 L548.16,389.95 L558.54,389.92 L569.30,389.88 L581.31,389.83 L594.94,389.76 L609.44,389.69 L624.10,389.62 L638.16,389.55 L650.91,389.49 L661.60,389.44 L669.50,389.40" fill="none" stroke="#ff9896" stroke-width="1.35" stroke-linejoin="round"/>
<path d="M419.00,627.90 L419.00,614.12 L419.00,594.83 L419.00,571.76 L419.00,546.66 L419.00,521.29 L419.00,497.38 L419.00,476.68 L419.00,460.95 L419.02,450.09 L419.04,442.39 L419.06,437.19 L419.09,433.82 L419.13,431.60 L419.16,429.87 L419.21,427.95 L419.25,425.17 L419.30,421.92 L419.35,418.98 L419.40,416.33 L419.45,413.92 L419.52,411.73 L419.59,409.72 L419.66,407.85 L419.75,406.09 L419.85,404.51 L419.96,403.15 L420.07,401.99 L420.19,400.98 L420.32,400.09 L420.46,399.28 L420.60,398.51 L420.75,397.75 L420.90,397.02 L421.03,396.38 L421.16,395.82 L421.30,395.32 L421.47,394.87 L421.68,394.46 L421.93,394.07 L422.26,393.69 L422.57,393.34 L422.82,393.04 L423.07,392.77 L423.38,392.53 L423.82,392.32 L424.45,392.13 L425.33,391.95 L426.51,391.78 L427.85,391.64 L429.20,391.52 L430.69,391.42 L432.42,391.34 L434.51,391.27 L437.07,391.20 L440.21,391.14 L444.05,391.07 L448.24,391.00 L452.52,390.93 L457.15,390.86 L462.37,390.80 L468.43,390.74 L475.58,390.69 L484.07,390.64 L494.15,390.59 L506.84,390.55 L522.35,390.51 L539.69,390.48 L557.87,390.44 L575.92,390.42 L592.84,390.39 L607.67,390.37 L619.40,390.35 L628.09,390.35 L634.70,390.35 L639.61,390.37 L643.20,390.38 L645.84,390.40 L647.93,390.40 L649.85,390.39 L651.97,390.35 L653.86,390.30 L654.98,390.21 L655.53,390.12 L655.72,390.01 L655.76,389.90 L655.84,389.80 L656.18,389.71 L656.98,389.64 L658.27,389.58 L659.87,389.54 L661.67,389.50 L663.55,389.47 L665.39,389.45 L667.07,389.43 L668.48,389.42 L669.50,389.40" fill="none" stroke="#9467bd" stroke-width="1.35" stroke-linejoin="round"/>
</g>
<rect x="606.8" y="462.2" width="69.4" height="169.8" rx="2.5" fill="#fff" fill-opacity="1" stroke="#e8e8e8" stroke-width="0.8"/>
<line x1="611.6999999999999" y1="472.80" x2="638.1999999999999" y2="472.80" stroke="#1f77b4" stroke-width="1.5"/>
<text transform="translate(647.80,477.90) scale(0.86,1.06)" class="leg" text-anchor="start">C 1</text>
<line x1="611.6999999999999" y1="491.40" x2="638.1999999999999" y2="491.40" stroke="#aec7e8" stroke-width="1.5"/>
<text transform="translate(647.80,496.50) scale(0.86,1.06)" class="leg" text-anchor="start">C 2</text>
<line x1="611.6999999999999" y1="510.00" x2="638.1999999999999" y2="510.00" stroke="#ff7f0e" stroke-width="1.5"/>
<text transform="translate(647.80,515.10) scale(0.86,1.06)" class="leg" text-anchor="start">C 3</text>
<line x1="611.6999999999999" y1="528.60" x2="638.1999999999999" y2="528.60" stroke="#ffbb78" stroke-width="1.5"/>
<text transform="translate(647.80,533.70) scale(0.86,1.06)" class="leg" text-anchor="start">C 4</text>
<line x1="611.6999999999999" y1="547.20" x2="638.1999999999999" y2="547.20" stroke="#2ca02c" stroke-width="1.5"/>
<text transform="translate(647.80,552.30) scale(0.86,1.06)" class="leg" text-anchor="start">C 5</text>
<line x1="611.6999999999999" y1="565.80" x2="638.1999999999999" y2="565.80" stroke="#98df8a" stroke-width="1.5"/>
<text transform="translate(647.80,570.90) scale(0.86,1.06)" class="leg" text-anchor="start">C 6</text>
<line x1="611.6999999999999" y1="584.40" x2="638.1999999999999" y2="584.40" stroke="#d62728" stroke-width="1.5"/>
<text transform="translate(647.80,589.50) scale(0.86,1.06)" class="leg" text-anchor="start">C 7</text>
<line x1="611.6999999999999" y1="603.00" x2="638.1999999999999" y2="603.00" stroke="#ff9896" stroke-width="1.5"/>
<text transform="translate(647.80,608.10) scale(0.86,1.06)" class="leg" text-anchor="start">C 8</text>
<line x1="611.6999999999999" y1="621.60" x2="638.1999999999999" y2="621.60" stroke="#9467bd" stroke-width="1.5"/>
<text transform="translate(647.80,626.70) scale(0.86,1.06)" class="leg" text-anchor="start">C 9</text>
<rect x="406.6" y="377.4" width="275.19999999999993" height="261.80000000000007" fill="none" stroke="#666" stroke-width="1"/>
<line x1="419.00" y1="639.2" x2="419.00" y2="643.7" stroke="#555" stroke-width="0.9"/>
<text transform="translate(419.30,655.30) scale(1.0,1.08)" class="tick" text-anchor="middle">0.0</text>
<line x1="469.10" y1="639.2" x2="469.10" y2="643.7" stroke="#555" stroke-width="0.9"/>
<text transform="translate(469.40,655.30) scale(1.0,1.08)" class="tick" text-anchor="middle">0.2</text>
<line x1="519.20" y1="639.2" x2="519.20" y2="643.7" stroke="#555" stroke-width="0.9"/>
<text transform="translate(519.50,655.30) scale(1.0,1.08)" class="tick" text-anchor="middle">0.4</text>
<line x1="569.30" y1="639.2" x2="569.30" y2="643.7" stroke="#555" stroke-width="0.9"/>
<text transform="translate(569.60,655.30) scale(1.0,1.08)" class="tick" text-anchor="middle">0.6</text>
<line x1="619.40" y1="639.2" x2="619.40" y2="643.7" stroke="#555" stroke-width="0.9"/>
<text transform="translate(619.70,655.30) scale(1.0,1.08)" class="tick" text-anchor="middle">0.8</text>
<line x1="669.50" y1="639.2" x2="669.50" y2="643.7" stroke="#555" stroke-width="0.9"/>
<text transform="translate(669.80,655.30) scale(1.0,1.08)" class="tick" text-anchor="middle">1.0</text>
<line x1="431.52" y1="639.2" x2="431.52" y2="641.2" stroke="#777" stroke-width="0.7"/>
<line x1="444.05" y1="639.2" x2="444.05" y2="641.2" stroke="#777" stroke-width="0.7"/>
<line x1="456.57" y1="639.2" x2="456.57" y2="641.2" stroke="#777" stroke-width="0.7"/>
<line x1="481.62" y1="639.2" x2="481.62" y2="641.2" stroke="#777" stroke-width="0.7"/>
<line x1="494.15" y1="639.2" x2="494.15" y2="641.2" stroke="#777" stroke-width="0.7"/>
<line x1="506.68" y1="639.2" x2="506.68" y2="641.2" stroke="#777" stroke-width="0.7"/>
<line x1="531.73" y1="639.2" x2="531.73" y2="641.2" stroke="#777" stroke-width="0.7"/>
<line x1="544.25" y1="639.2" x2="544.25" y2="641.2" stroke="#777" stroke-width="0.7"/>
<line x1="556.77" y1="639.2" x2="556.77" y2="641.2" stroke="#777" stroke-width="0.7"/>
<line x1="581.83" y1="639.2" x2="581.83" y2="641.2" stroke="#777" stroke-width="0.7"/>
<line x1="594.35" y1="639.2" x2="594.35" y2="641.2" stroke="#777" stroke-width="0.7"/>
<line x1="606.88" y1="639.2" x2="606.88" y2="641.2" stroke="#777" stroke-width="0.7"/>
<line x1="631.92" y1="639.2" x2="631.92" y2="641.2" stroke="#777" stroke-width="0.7"/>
<line x1="644.45" y1="639.2" x2="644.45" y2="641.2" stroke="#777" stroke-width="0.7"/>
<line x1="656.98" y1="639.2" x2="656.98" y2="641.2" stroke="#777" stroke-width="0.7"/>
<line x1="402.1" y1="627.90" x2="406.6" y2="627.90" stroke="#555" stroke-width="0.9"/>
<text transform="translate(400.00,631.00) scale(1.0,1.08)" class="tick" text-anchor="end">0.0</text>
<line x1="402.1" y1="580.20" x2="406.6" y2="580.20" stroke="#555" stroke-width="0.9"/>
<text transform="translate(400.00,583.30) scale(1.0,1.08)" class="tick" text-anchor="end">0.2</text>
<line x1="402.1" y1="532.50" x2="406.6" y2="532.50" stroke="#555" stroke-width="0.9"/>
<text transform="translate(400.00,535.60) scale(1.0,1.08)" class="tick" text-anchor="end">0.4</text>
<line x1="402.1" y1="484.80" x2="406.6" y2="484.80" stroke="#555" stroke-width="0.9"/>
<text transform="translate(400.00,487.90) scale(1.0,1.08)" class="tick" text-anchor="end">0.6</text>
<line x1="402.1" y1="437.10" x2="406.6" y2="437.10" stroke="#555" stroke-width="0.9"/>
<text transform="translate(400.00,440.20) scale(1.0,1.08)" class="tick" text-anchor="end">0.8</text>
<line x1="402.1" y1="389.40" x2="406.6" y2="389.40" stroke="#555" stroke-width="0.9"/>
<text transform="translate(400.00,392.50) scale(1.0,1.08)" class="tick" text-anchor="end">1.0</text>
<line x1="404.6" y1="615.98" x2="406.6" y2="615.98" stroke="#777" stroke-width="0.7"/>
<line x1="404.6" y1="604.05" x2="406.6" y2="604.05" stroke="#777" stroke-width="0.7"/>
<line x1="404.6" y1="592.12" x2="406.6" y2="592.12" stroke="#777" stroke-width="0.7"/>
<line x1="404.6" y1="568.27" x2="406.6" y2="568.27" stroke="#777" stroke-width="0.7"/>
<line x1="404.6" y1="556.35" x2="406.6" y2="556.35" stroke="#777" stroke-width="0.7"/>
<line x1="404.6" y1="544.42" x2="406.6" y2="544.42" stroke="#777" stroke-width="0.7"/>
<line x1="404.6" y1="520.57" x2="406.6" y2="520.57" stroke="#777" stroke-width="0.7"/>
<line x1="404.6" y1="508.65" x2="406.6" y2="508.65" stroke="#777" stroke-width="0.7"/>
<line x1="404.6" y1="496.72" x2="406.6" y2="496.72" stroke="#777" stroke-width="0.7"/>
<line x1="404.6" y1="472.88" x2="406.6" y2="472.88" stroke="#777" stroke-width="0.7"/>
<line x1="404.6" y1="460.95" x2="406.6" y2="460.95" stroke="#777" stroke-width="0.7"/>
<line x1="404.6" y1="449.02" x2="406.6" y2="449.02" stroke="#777" stroke-width="0.7"/>
<line x1="404.6" y1="425.17" x2="406.6" y2="425.17" stroke="#777" stroke-width="0.7"/>
<line x1="404.6" y1="413.25" x2="406.6" y2="413.25" stroke="#777" stroke-width="0.7"/>
<line x1="404.6" y1="401.32" x2="406.6" y2="401.32" stroke="#777" stroke-width="0.7"/>
<text transform="translate(544.20,365.60)" class="ttl2" text-anchor="middle">ROC-Curve (80:20)</text>
<text transform="translate(543.90,676.20) scale(1.0,1.15)" class="axl" text-anchor="middle">False Positive Rate</text>
<text transform="translate(368.20,510.30) rotate(-90) scale(1.0,1.1)" class="axl" text-anchor="middle">True Positive Rate</text>
<text transform="translate(541.80,699.00)" class="sub" text-anchor="middle">(d)</text>
</g></svg></body></html>
